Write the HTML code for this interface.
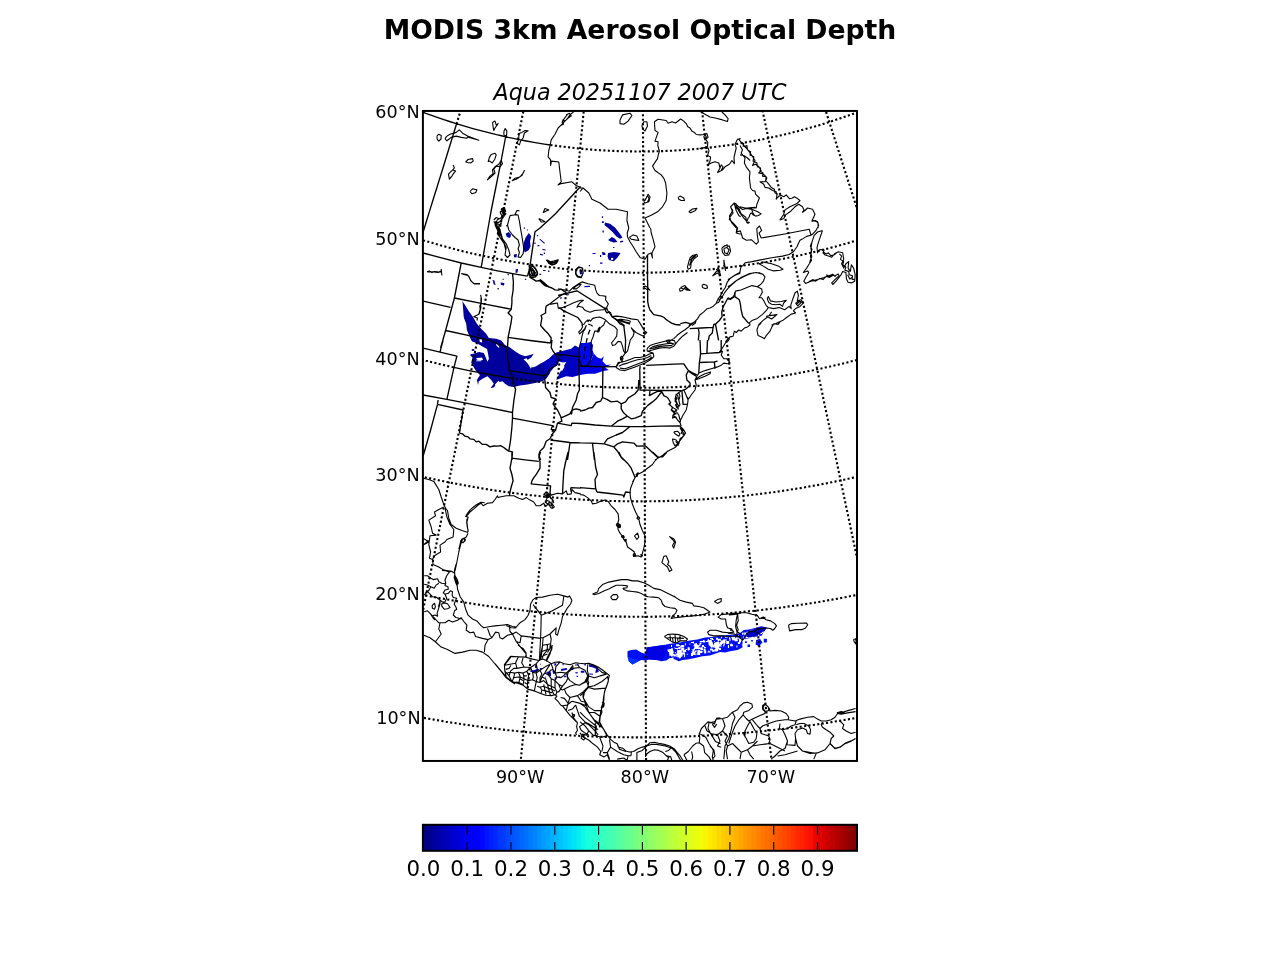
<!DOCTYPE html>
<html><head><meta charset="utf-8"><title>MODIS 3km Aerosol Optical Depth</title>
<style>
html,body{margin:0;padding:0;background:#fff;}
body{width:1280px;height:960px;overflow:hidden;position:relative;font-family:"DejaVu Sans","Liberation Sans",sans-serif;}
svg{position:absolute;left:0;top:0;}
text{font-family:"DejaVu Sans","Liberation Sans",sans-serif;fill:#000;}
.c{fill:none;stroke:#000;stroke-width:1.1;stroke-linejoin:round;stroke-linecap:butt}
.s{fill:none;stroke:#000;stroke-width:1.35;stroke-linejoin:round}
.g{fill:none;stroke:#000;stroke-width:2.1;stroke-dasharray:2.1 2.34}
</style></head><body>
<svg width="1280" height="960" viewBox="0 0 1280 960">
<defs><clipPath id="mc"><rect x="423" y="110.9" width="434" height="650"/></clipPath>
</defs>
<text x="640" y="38.7" text-anchor="middle" font-size="26.67" font-weight="bold">MODIS 3km Aerosol Optical Depth</text>
<text x="640" y="100" text-anchor="middle" font-size="22.2" font-style="italic">Aqua 20251107 2007 UTC</text>
<g clip-path="url(#mc)">
<path fill="#00009c" d="M462.5 301.2 463.1 308.8 463.8 317.5 466.2 323.8 466.9 330 470 337.5 472.5 342.5 477.5 345 475 348.8 470 355 472.5 357.5 471.2 362.5 473.8 367.5 476.2 371.2 480 375 476.9 380 478.1 385 478.8 381.2 482.5 378.8 487.5 376.2 491.2 380 493.8 383.8 490.6 388.1 493.8 387.5 497.5 382.5 502.5 381.2 505 383.8 508.8 386.2 513.8 386.9 520 385.6 527.5 384.4 535 383.1 542.5 381.2 546.2 378.8 548.8 375 550.6 371.2 553.8 367.5 557.5 365 558.8 361.2 553.8 357.5 548.8 358.8 545 361.2 540 363.8 536.2 366.2 532.5 367.5 530 363.8 527.5 360 531.2 357.5 533.8 353.8 530 355 525 356.2 520 354.4 515 351.2 510 347.5 505 345 501.2 340.6 496.2 338.8 488.8 338.1 486.2 333.8 481.9 329.4 476.9 323.8 472.5 316.2 468.8 311.2 465 305Z"/>
<path fill="#0000c0" d="M548.8 358.8 545 361.2 542.5 365 546.2 370 548.8 375 550.6 371.2 553.8 367.5 557.5 365 558.8 361.2 562.5 362.5 566.2 361.9 563.8 366.2 561.2 370 558.8 375 556.2 380 561.2 378.1 566.2 376.2 572.5 376.9 580 375 580 366.2 580 347.5 578.8 347.5 575 345.6 571.2 348.8 566.2 350 561.2 351.2 556.2 352.5 552.5 355Z"/>
<path fill="#0000e2" d="M580 375 587.5 373.8 595 373.8 602.5 371.2 608.8 370 605 367.5 611.2 364.4 606.2 365 602.5 361.2 603.8 356.2 601.2 358.8 597.5 357.5 593.8 353.8 591.2 360 587.5 365 581.2 366.2 580 366.2Z"/>
<path fill="#0008ec" d="M580 343.1 586.2 343.1 590.6 341.9 593.1 345 592.5 350 593.8 353.8 591.2 360 587.5 365 581.2 366.2 580 366.2 580 357.5Z"/>
<path fill="#ffffff" d="M476.9 358.1 481.9 357.5 483.1 360 477.5 360.6Z M486.2 351.2 488.1 353.8 488.8 360 486.9 357.5Z M560 365 563.1 363.8 564.4 366.9 561.9 371.2 560 368.8Z M465.9 340.7 468.9 340.3 476.9 343.2 482 346.2 487.1 349.1 488.9 358.6 487.5 361.8 485.6 357.1 483.8 353.1 479.1 352.1 473.2 353.8 469.2 354.5 465.9 355.6Z"/>
<path fill="#00009c" d="M471.8 349.1 474.3 349.1 474.3 350.9 471.8 350.9Z"/>
<path fill="#ffffff" d="M479.4 339.2 482 339.6 482.1 342.5 479.8 342.1Z M495.8 344.1 497.7 344.7 499.6 347.2 498.8 347.8 496.6 345.8Z M476.2 358.2 480.5 358 480.5 359.1 476.2 359.3Z M476.2 360.4 481.3 360.2 481.3 361.2 476.2 361.3Z M494.8 384.8 498.4 380.8 499.5 381.5 496.2 385.9Z M498.8 383.4 501.7 383.4 506.1 387 502.4 385.5 499.5 385.5Z M523.6 359.3 526.5 358.2 532.3 365.8 530.9 368.8 527.9 363.7Z M528.7 360.7 532.3 359.3 533 360.7 529.4 361.8Z"/>
<path fill="#0010f2" d="M627.5 651.2 631.2 650 636.2 649.4 641.2 652.5 645 653.8 646.9 647.5 655 646.2 663.8 645 670 643.8 676.2 643.1 682.5 641.9 690 640.6 697.5 639.4 705 637.5 712.5 636.9 720 635.6 727.5 635 735 634.4 740 633.1 743.8 630 748.8 629.4 755 628.1 761.2 626.2 766.9 627.5 765 630.6 762.5 633.8 761.2 636.9 765 640 766.9 641.9 762.5 643.8 757.5 645.6 755 643.8 750 646.2 747.5 645 742.5 647.5 737.5 650 730 651.2 725 652.5 720 651.9 715 653.8 710 655.6 702.5 656.2 695 658.1 687.5 659.4 682.5 660 678.8 661.2 675 659.4 670 658.1 666.2 660.6 661.2 661.2 656.2 660 650 659.4 645 660.6 641.2 660 636.2 662.5 632.5 664.4 628.8 661.2 627.5 656.2Z"/>
<path fill="#0000e2" d="M646.9 647.5 655 646.2 663.8 645 667.5 646.2 666.2 652.5 662.5 660 656.2 660 650 659.4 646.2 657.5Z"/>
<path fill="#0034ff" d="M627.5 656.2 632.5 658.8 638.8 660 636.2 662.5 632.5 664.4 628.8 661.2Z"/>
<path fill="#ffffff" d="M669.4 649.4 672.5 648.1 673.8 652.5 671.9 656.9 670 655Z M676.9 651.2 681.2 650 682.5 655 680 658.8 677.5 656.2Z M708.1 640.6 711.2 639.4 713.1 643.8 711.2 647.5 708.8 645Z M715 642.5 718.8 641.2 720 646.2 716.9 650 714.4 647.5Z M693.8 643.8 696.9 643.1 697.5 646.2 695 647.5Z M750.6 630 756.2 628.8 756.9 631.2 751.2 632.5Z M731.2 636.9 735 636.2 735.6 640 732.5 640.6Z M722.5 640 725 639.4 725.6 643.1 723.1 643.8Z M745 638.8 752.5 638.1 753.8 642.5 746.2 643.1Z M700 647.5 702.5 646.9 703.1 650 700.6 650.6Z M687.5 647.5 689.4 646.9 690 650 688.1 650.6Z"/>
<path fill="#00009c" d="M525.6 237.5 528.8 233.1 531.2 236.2 530 241.2 530.6 246.2 528.8 250 525 252.5 523.1 248.8 523.8 242.5Z M505.6 233.8 508.8 231.9 511.2 235 510 238.1 506.9 236.9Z M513.8 254.4 516.9 254 516.5 257.5 514 257.2Z M605 222.5 610 223.8 615 227.5 620 233.8 622.5 237.5 620 238.8 616.2 236.2 612.5 231.9 607.5 227.5 604.4 225Z M608.1 240 611.9 236.9 615 238.8 617.5 241.9 613.8 242.5 610 241.2Z M608.1 253.1 613.8 251.9 620.6 253.1 617.5 257.5 613.8 261.2 608.8 260 607.5 256.2Z M601.9 251.9 605 252.5 605.6 255 602.5 255Z"/>
<path fill="#ffffff" d="M611 258.1 613.1 257.8 613.2 259.8 611.2 260Z"/>
<path fill="#00009c" d="M515.6 269.4 518.1 268.8 517.5 272.5 515.6 273.1Z M492.5 280 494.4 280.6 495.6 285 493.8 284.4Z M500.6 282.5 504.4 283.1 504 285.6 501 285Z M601.9 216.2 603.1 216.2 603.1 218.1 601.9 218.1Z M601.9 221.2 603.8 221.2 603.8 223.1 601.9 223.1Z M602.5 230.6 603.8 230.6 603.8 232.5 602.5 232.5Z M523.8 227.5 525 227.5 525 228.8 523.8 228.8Z M526.9 229.4 528.1 229.4 528.1 230.6 526.9 230.6Z M536.9 235 538.1 235 538.1 236.2 536.9 236.2Z M540 238.8 545 243.1 544.2 243.8 539.5 239.5Z M537.5 245 539.4 245 539.4 246.2 537.5 246.2Z M542.5 248.8 545.6 249.4 545.6 250.6 542.5 250Z M540 253.8 543.1 254.4 543.1 255.6 540 255Z M534.4 242.5 535.6 242.5 535.6 244 534.4 244Z M543.8 252.5 545 252.5 545 254 543.8 254Z M543.1 270 545.6 270 545.6 271 543.1 271Z M548.1 270.6 549.4 270.6 549.4 271.9 548.1 271.9Z M539.4 273.8 541.2 273.8 541.2 275 539.4 275Z M525 278.8 526.2 278.8 526.2 280 525 280Z M507.5 273.8 508.8 273.8 508.8 275.2 507.5 275.2Z M497.5 288.1 498.8 288.1 498.8 289.4 497.5 289.4Z M502.5 278.8 503.8 278.8 503.8 279.8 502.5 279.8Z M584.4 286 590 285.8 590 287 584.4 287.2Z M560 297.5 561.9 297.2 561.9 298.5 560 298.8Z M566.2 294.4 568.8 294 568.8 295.2 566.2 295.6Z M579.4 270.6 581.9 270 582.2 273.8 580 274.4Z M592.5 253.1 595.6 253.1 595.6 254 592.5 254Z M600 255 601.2 255 601.2 256.9 600 256.9Z M600 262.5 602.5 262.5 602.5 263.8 600 263.8Z M588.8 265 590 265 590 266.2 588.8 266.2Z M620 241.2 623.1 240.6 623.1 241.9 620 242.5Z M613.1 246.9 614.4 246.9 614.4 248.1 613.1 248.1Z M506.2 225 507.5 225 507.5 226.5 506.2 226.5Z M497.5 228.1 498.8 228.1 498.8 229.6 497.5 229.6Z"/>
<path fill="#0000c0" d="M529.3 671.1 534.4 669.9 538.3 668.8 539.5 669.9 536.7 671.9 532 672.3Z M535 665.2 536.9 665.2 536.9 668.1 535 668.1Z M539.8 668 541.8 668 541.8 669.5 539.8 669.5Z M546.1 672.3 550 671.1 551.2 673.4 550.8 676.6 548.4 675.4Z M552.3 670.5 554.1 670.5 555.1 673.4 553.3 674.1Z M554.3 663.3 556.2 663.3 556.2 665.6 554.3 665.6Z M560.9 669.1 566.8 668.1 567.2 669.7 561.3 670.9Z M570.3 668 573.4 668 573.4 669.9 570.3 669.9Z M575 664.5 578.1 664.5 578.1 665.6 575 665.6Z M580.9 670.7 584.4 670.7 584.4 672.7 580.9 672.7Z M575 672.3 578.1 672.3 577.3 673.4 575.8 673.4Z M589.1 664.5 593 665.2 597.7 667.2 598.8 671.9 595.3 673 596.1 668.8 592.2 667.2 589.1 666.8Z M564.1 675.8 566.4 675.8 566.4 677.3 564.1 677.3Z M554.7 677.3 556.2 677.3 556.2 679.7 554.7 679.7Z M558.6 676.6 560.2 676.6 560.2 678.1 558.6 678.1Z M545.3 676.6 546.1 676.6 546.1 677.7 545.3 677.7Z M589.1 673.4 593 673.8 593 674.8 589.1 674.6Z M576.6 675.8 578.1 675.8 578.1 677 576.6 677Z M540.2 663.7 541 663.7 541 664.8 540.2 664.8Z M562.5 664.1 563.7 664.1 563.7 665.2 562.5 665.2Z M584.4 664.1 585.9 664.1 585.9 665.6 584.4 665.6Z"/>
<path fill="#ffffff" d="M712.1 649.8 714.1 649.8 714.1 651.8 712.1 651.8Z M717.6 639 719.6 639 719.6 641 717.6 641Z M676.8 645 679.8 645 679.8 646 676.8 646Z M726.2 641 729.2 641 729.2 644 726.2 644Z M731.8 645 732.8 645 732.8 646 731.8 646Z M671 652.8 673 652.8 673 654.8 671 654.8Z M711 644.6 714 644.6 714 646.6 711 646.6Z M716.9 642.8 717.9 642.8 717.9 644.8 716.9 644.8Z M750.5 635 751.5 635 751.5 638 750.5 638Z M696 650.5 698 650.5 698 651.5 696 651.5Z M751.1 643.2 754.1 643.2 754.1 644.2 751.1 644.2Z M672.6 653.9 674.6 653.9 674.6 654.9 672.6 654.9Z M723.4 644.5 724.4 644.5 724.4 645.5 723.4 645.5Z M698.2 645.4 699.2 645.4 699.2 646.4 698.2 646.4Z M691.9 642 693.9 642 693.9 643 691.9 643Z M734.9 640.2 737.9 640.2 737.9 641.2 734.9 641.2Z M708.9 643.4 709.9 643.4 709.9 644.4 708.9 644.4Z M694.1 651.2 695.1 651.2 695.1 652.2 694.1 652.2Z M751.9 631.9 752.9 631.9 752.9 632.9 751.9 632.9Z M711.1 645.8 712.1 645.8 712.1 647.8 711.1 647.8Z M674.8 651.9 675.8 651.9 675.8 652.9 674.8 652.9Z M726.9 641 728.9 641 728.9 643 726.9 643Z M749.8 636 752.8 636 752.8 637 749.8 637Z M698.2 648 701.2 648 701.2 649 698.2 649Z M683.1 650 686.1 650 686.1 652 683.1 652Z M754.6 635.6 755.6 635.6 755.6 636.6 754.6 636.6Z M692.9 648.8 693.9 648.8 693.9 651.8 692.9 651.8Z M684.9 643.2 685.9 643.2 685.9 645.2 684.9 645.2Z M728.1 646.8 729.1 646.8 729.1 647.8 728.1 647.8Z M674.4 647.5 675.4 647.5 675.4 648.5 674.4 648.5Z M695.4 653.2 696.4 653.2 696.4 655.2 695.4 655.2Z M681.1 647.4 684.1 647.4 684.1 650.4 681.1 650.4Z M725.2 635.8 726.2 635.8 726.2 637.8 725.2 637.8Z M757.4 642.2 758.4 642.2 758.4 645.2 757.4 645.2Z M730.4 644 731.4 644 731.4 645 730.4 645Z M766.1 635.2 769.1 635.2 769.1 636.2 766.1 636.2Z M756.4 639 757.4 639 757.4 641 756.4 641Z M675.9 645 677.9 645 677.9 646 675.9 646Z M752.8 638.6 754.8 638.6 754.8 640.6 752.8 640.6Z M725 636.4 728 636.4 728 637.4 725 637.4Z M765.6 637.8 767.6 637.8 767.6 640.8 765.6 640.8Z M712.8 644.6 714.8 644.6 714.8 647.6 712.8 647.6Z M670.5 651.2 671.5 651.2 671.5 652.2 670.5 652.2Z M716.6 648.9 717.6 648.9 717.6 649.9 716.6 649.9Z M703.9 647.1 705.9 647.1 705.9 648.1 703.9 648.1Z M741.9 644.5 743.9 644.5 743.9 645.5 741.9 645.5Z M699.8 642.4 701.8 642.4 701.8 643.4 699.8 643.4Z M754.4 637.8 755.4 637.8 755.4 638.8 754.4 638.8Z M681 654 682 654 682 655 681 655Z M761.4 631.1 763.4 631.1 763.4 633.1 761.4 633.1Z M694.6 646.1 697.6 646.1 697.6 649.1 694.6 649.1Z M716.2 647.9 718.2 647.9 718.2 649.9 716.2 649.9Z M699.1 643.5 701.1 643.5 701.1 644.5 699.1 644.5Z M734.5 638.2 737.5 638.2 737.5 641.2 734.5 641.2Z M669.4 651.1 670.4 651.1 670.4 653.1 669.4 653.1Z M691 641.9 694 641.9 694 642.9 691 642.9Z M711.6 646.2 712.6 646.2 712.6 647.2 711.6 647.2Z M735.1 639.8 736.1 639.8 736.1 640.8 735.1 640.8Z M742 632.8 743 632.8 743 634.8 742 634.8Z M744.4 644.4 746.4 644.4 746.4 647.4 744.4 647.4Z M765.9 639.2 768.9 639.2 768.9 640.2 765.9 640.2Z M738.9 638.9 741.9 638.9 741.9 639.9 738.9 639.9Z M704.8 650.4 705.8 650.4 705.8 652.4 704.8 652.4Z M699.8 641.1 702.8 641.1 702.8 642.1 699.8 642.1Z M720.5 640.4 723.5 640.4 723.5 641.4 720.5 641.4Z M701.9 645.1 703.9 645.1 703.9 647.1 701.9 647.1Z M743.4 632.5 744.4 632.5 744.4 634.5 743.4 634.5Z M746.5 635.9 747.5 635.9 747.5 637.9 746.5 637.9Z M682.1 652.4 685.1 652.4 685.1 654.4 682.1 654.4Z M760.9 641.5 761.9 641.5 761.9 642.5 760.9 642.5Z M710.9 648.8 712.9 648.8 712.9 649.8 710.9 649.8Z M719.1 643.8 720.1 643.8 720.1 645.8 719.1 645.8Z M761.8 636.9 762.8 636.9 762.8 637.9 761.8 637.9Z M763.1 636.1 764.1 636.1 764.1 638.1 763.1 638.1Z M720.4 644.1 721.4 644.1 721.4 647.1 720.4 647.1Z M763.2 633.9 765.2 633.9 765.2 634.9 763.2 634.9Z M716 637.8 718 637.8 718 639.8 716 639.8Z M708.4 650.4 709.4 650.4 709.4 651.4 708.4 651.4Z M714.2 642.9 716.2 642.9 716.2 645.9 714.2 645.9Z M698.9 648 699.9 648 699.9 649 698.9 649Z M671 645 672 645 672 647 671 647Z M739 639.4 741 639.4 741 642.4 739 642.4Z M679.6 646.6 680.6 646.6 680.6 649.6 679.6 649.6Z M754.2 638.5 756.2 638.5 756.2 641.5 754.2 641.5Z M683.2 651 686.2 651 686.2 652 683.2 652Z M719.8 644.2 720.8 644.2 720.8 645.2 719.8 645.2Z M757.9 634.1 758.9 634.1 758.9 636.1 757.9 636.1Z M686.8 653.8 687.8 653.8 687.8 654.8 686.8 654.8Z M693.1 651.9 695.1 651.9 695.1 654.9 693.1 654.9Z M745.5 637 748.5 637 748.5 638 745.5 638Z M677 648.5 678 648.5 678 649.5 677 649.5Z M737.1 637.8 740.1 637.8 740.1 638.8 737.1 638.8Z M746.8 631.8 748.8 631.8 748.8 634.8 746.8 634.8Z M718.4 638.4 719.4 638.4 719.4 639.4 718.4 639.4Z M676.9 656.2 678.9 656.2 678.9 657.2 676.9 657.2Z M743 638.2 745 638.2 745 640.2 743 640.2Z M710 638.1 713 638.1 713 639.1 710 639.1Z M750.9 636.8 753.9 636.8 753.9 638.8 750.9 638.8Z M707.5 640.5 709.5 640.5 709.5 641.5 707.5 641.5Z M699.5 650.9 702.5 650.9 702.5 652.9 699.5 652.9Z M723.8 643.2 724.8 643.2 724.8 645.2 723.8 645.2Z M695.1 650.4 696.1 650.4 696.1 652.4 695.1 652.4Z M680.6 650.2 681.6 650.2 681.6 652.2 680.6 652.2Z M743.1 641.6 744.1 641.6 744.1 643.6 743.1 643.6Z M697.2 651.9 700.2 651.9 700.2 654.9 697.2 654.9Z M672.4 657.2 673.4 657.2 673.4 659.2 672.4 659.2Z M685.5 649 687.5 649 687.5 650 685.5 650Z M764.2 636.5 767.2 636.5 767.2 637.5 764.2 637.5Z M692.9 641.6 693.9 641.6 693.9 643.6 692.9 643.6Z M668.6 648.9 669.6 648.9 669.6 651.9 668.6 651.9Z M720.9 642.9 721.9 642.9 721.9 644.9 720.9 644.9Z M747.5 639.2 748.5 639.2 748.5 641.2 747.5 641.2Z M759.4 635.5 760.4 635.5 760.4 637.5 759.4 637.5Z M721 641.6 723 641.6 723 643.6 721 643.6Z M695.6 644.6 697.6 644.6 697.6 646.6 695.6 646.6Z M715.2 649.2 718.2 649.2 718.2 651.2 715.2 651.2Z M670.1 652.6 673.1 652.6 673.1 653.6 670.1 653.6Z M707.9 639 708.9 639 708.9 641 707.9 641Z M760.8 640.9 762.8 640.9 762.8 642.9 760.8 642.9Z M672 655.2 674 655.2 674 656.2 672 656.2Z M764.1 636.4 765.1 636.4 765.1 637.4 764.1 637.4Z M729.1 637.2 730.1 637.2 730.1 639.2 729.1 639.2Z M719.6 642.1 722.6 642.1 722.6 644.1 719.6 644.1Z M712.5 645.1 714.5 645.1 714.5 647.1 712.5 647.1Z M744.4 645 745.4 645 745.4 646 744.4 646Z M691 653 693 653 693 656 691 656Z M751.1 638.8 754.1 638.8 754.1 641.8 751.1 641.8Z M736.5 637 737.5 637 737.5 638 736.5 638Z M761.5 637.5 762.5 637.5 762.5 638.5 761.5 638.5Z M729.5 637.9 730.5 637.9 730.5 640.9 729.5 640.9Z M671.2 648.4 672.2 648.4 672.2 649.4 671.2 649.4Z M721.9 640.8 723.9 640.8 723.9 642.8 721.9 642.8Z M674.9 654.8 676.9 654.8 676.9 655.8 674.9 655.8Z M711.4 642.9 712.4 642.9 712.4 644.9 711.4 644.9Z M682.6 650.6 683.6 650.6 683.6 653.6 682.6 653.6Z M724.9 639.6 726.9 639.6 726.9 640.6 724.9 640.6Z M710.1 648.6 712.1 648.6 712.1 650.6 710.1 650.6Z M748.9 635.2 751.9 635.2 751.9 638.2 748.9 638.2Z M675.6 653.5 678.6 653.5 678.6 655.5 675.6 655.5Z M695.5 645.2 698.5 645.2 698.5 647.2 695.5 647.2Z M703.6 648.4 705.6 648.4 705.6 651.4 703.6 651.4Z M757.8 640.1 758.8 640.1 758.8 642.1 757.8 642.1Z M698.9 652.1 700.9 652.1 700.9 653.1 698.9 653.1Z M675.9 644.2 678.9 644.2 678.9 646.2 675.9 646.2Z M740.5 637.8 741.5 637.8 741.5 640.8 740.5 640.8Z M723.1 645.6 724.1 645.6 724.1 646.6 723.1 646.6Z M689.4 643.6 690.4 643.6 690.4 644.6 689.4 644.6Z M673.9 654.6 674.9 654.6 674.9 656.6 673.9 656.6Z M675.6 655.9 676.6 655.9 676.6 656.9 675.6 656.9Z M730.1 644.2 733.1 644.2 733.1 646.2 730.1 646.2Z M691.8 651.2 693.8 651.2 693.8 653.2 691.8 653.2Z M743 636.6 744 636.6 744 637.6 743 637.6Z M716.2 646.4 719.2 646.4 719.2 649.4 716.2 649.4Z M757.9 640.4 760.9 640.4 760.9 642.4 757.9 642.4Z M751.8 641.5 753.8 641.5 753.8 644.5 751.8 644.5Z M730.8 643.6 731.8 643.6 731.8 645.6 730.8 645.6Z M691.8 649.5 694.8 649.5 694.8 650.5 691.8 650.5Z M699.1 646.8 700.1 646.8 700.1 647.8 699.1 647.8Z M714 641.2 715 641.2 715 642.2 714 642.2Z M757.6 629.8 759.6 629.8 759.6 630.8 757.6 630.8Z M698.4 644.8 700.4 644.8 700.4 645.8 698.4 645.8Z M726.8 641.6 728.8 641.6 728.8 642.6 726.8 642.6Z M755.9 641.9 756.9 641.9 756.9 644.9 755.9 644.9Z M760.5 640.2 762.5 640.2 762.5 642.2 760.5 642.2Z M757.8 636.8 758.8 636.8 758.8 638.8 757.8 638.8Z M752.6 633.2 753.6 633.2 753.6 635.2 752.6 635.2Z M763.9 638.6 764.9 638.6 764.9 639.6 763.9 639.6Z M755.6 641.9 757.6 641.9 757.6 642.9 755.6 642.9Z M737.9 635.1 738.9 635.1 738.9 637.1 737.9 637.1Z M747.5 641.1 749.5 641.1 749.5 643.1 747.5 643.1Z M718.5 644 719.5 644 719.5 645 718.5 645Z M682.2 647.5 684.2 647.5 684.2 650.5 682.2 650.5Z M677.1 649.9 680.1 649.9 680.1 652.9 677.1 652.9Z M721.1 636.2 722.1 636.2 722.1 638.2 721.1 638.2Z M744.6 632.4 746.6 632.4 746.6 635.4 744.6 635.4Z M716.2 649.5 717.2 649.5 717.2 651.5 716.2 651.5Z M707.5 651.5 710.5 651.5 710.5 652.5 707.5 652.5Z M703 640.6 705 640.6 705 642.6 703 642.6Z M679.5 654.6 682.5 654.6 682.5 656.6 679.5 656.6Z M712.8 650.5 715.8 650.5 715.8 651.5 712.8 651.5Z M756.5 638 758.5 638 758.5 640 756.5 640Z M761.8 636.1 762.8 636.1 762.8 638.1 761.8 638.1Z M678.4 647.1 680.4 647.1 680.4 649.1 678.4 649.1Z M711.6 639 713.6 639 713.6 640 711.6 640Z M680.5 645.5 681.5 645.5 681.5 647.5 680.5 647.5Z M671.1 654 672.1 654 672.1 655 671.1 655Z M710.4 642.4 712.4 642.4 712.4 645.4 710.4 645.4Z M681.2 645 684.2 645 684.2 647 681.2 647Z M715.1 645.2 718.1 645.2 718.1 647.2 715.1 647.2Z M728 645.1 729 645.1 729 648.1 728 648.1Z M719.9 638.8 720.9 638.8 720.9 640.8 719.9 640.8Z M678 650.2 679 650.2 679 651.2 678 651.2Z M727.9 644.9 728.9 644.9 728.9 647.9 727.9 647.9Z M718.2 639.1 720.2 639.1 720.2 640.1 718.2 640.1Z M723.5 644.2 724.5 644.2 724.5 645.2 723.5 645.2Z M736.4 645.5 737.4 645.5 737.4 647.5 736.4 647.5Z M713.2 650.1 714.2 650.1 714.2 651.1 713.2 651.1Z M756.8 637.1 758.8 637.1 758.8 639.1 756.8 639.1Z M684.1 654.2 685.1 654.2 685.1 657.2 684.1 657.2Z M667.9 650.1 669.9 650.1 669.9 652.1 667.9 652.1Z M749.5 638.2 750.5 638.2 750.5 640.2 749.5 640.2Z M670.6 657.9 673.6 657.9 673.6 658.9 670.6 658.9Z M697.9 649.8 699.9 649.8 699.9 652.8 697.9 652.8Z M669.1 651.2 670.1 651.2 670.1 654.2 669.1 654.2Z M705.6 641 707.6 641 707.6 642 705.6 642Z M693.5 645.2 696.5 645.2 696.5 646.2 693.5 646.2Z M707.4 639.8 708.4 639.8 708.4 641.8 707.4 641.8Z M723.2 639.4 725.2 639.4 725.2 641.4 723.2 641.4Z M749 632.6 751 632.6 751 634.6 749 634.6Z M719.4 648.1 720.4 648.1 720.4 649.1 719.4 649.1Z M696.8 646 698.8 646 698.8 649 696.8 649Z M699.2 651.4 700.2 651.4 700.2 652.4 699.2 652.4Z M679.8 649.9 681.8 649.9 681.8 650.9 679.8 650.9Z M714.5 649.1 716.5 649.1 716.5 651.1 714.5 651.1Z M703.9 646.4 704.9 646.4 704.9 647.4 703.9 647.4Z M731.6 635.8 732.6 635.8 732.6 636.8 731.6 636.8Z M718.9 648 720.9 648 720.9 650 718.9 650Z M667.5 649.4 668.5 649.4 668.5 650.4 667.5 650.4Z M673.6 655 675.6 655 675.6 656 673.6 656Z M702.8 639.9 703.8 639.9 703.8 641.9 702.8 641.9Z M756.2 636.4 758.2 636.4 758.2 637.4 756.2 637.4Z M735.9 637.5 736.9 637.5 736.9 639.5 735.9 639.5Z M669.1 654.4 671.1 654.4 671.1 655.4 669.1 655.4Z M720.1 648.6 721.1 648.6 721.1 649.6 720.1 649.6Z M697.8 652.8 698.8 652.8 698.8 654.8 697.8 654.8Z M737.9 642.1 739.9 642.1 739.9 644.1 737.9 644.1Z M675.2 648.1 678.2 648.1 678.2 649.1 675.2 649.1Z M694 647.4 695 647.4 695 649.4 694 649.4Z M704.2 650.6 706.2 650.6 706.2 653.6 704.2 653.6Z M759 633 762 633 762 634 759 634Z M742.5 640.6 750 638.5 756.2 636.8 767.5 635 770 647.5 742.5 650Z"/>
<path fill="#0000c0" d="M746.2 633.8 752.5 629.4 760 627.5 766.2 626.9 765 630 760 633.8 755 636.2 750 637.5 746.9 636.9Z"/>
<path fill="#0010f2" d="M756.2 640 760 638.8 762.5 642.5 758.8 646.2 755.6 644.4Z M747.5 644.4 750 644.4 750 646.9 747.5 646.9Z M763.8 638.8 766.9 638.8 766.9 642.5 763.8 642.5Z M745 641.2 746.9 641.2 746.9 643.1 745 643.1Z M751.2 640 752.8 640 752.8 641.5 751.2 641.5Z"/>
<path class="g" d="M112.6 616 117.3 618.3 122.1 620.6 126.8 622.8 131.5 625 136.3 627.2 141.1 629.4 145.8 631.5 150.6 633.7 155.4 635.8 160.2 637.9 165 640 169.8 642 174.7 644 179.5 646 184.3 648 189.2 650 194.1 651.9 198.9 653.9 203.8 655.8 208.7 657.7 213.6 659.5 218.5 661.4 223.4 663.2 228.3 665 233.2 666.8 238.2 668.5 243.1 670.2 248.1 672 253 673.6 258 675.3 263 677 267.9 678.6 272.9 680.2 277.9 681.8 282.9 683.3 287.9 684.9 292.9 686.4 298 687.9 303 689.4 308 690.8 313.1 692.2 318.1 693.6 323.1 695 328.2 696.4 333.3 697.7 338.3 699.1 343.4 700.4 348.5 701.6 353.6 702.9 358.7 704.1 363.8 705.3 368.9 706.5 374 707.7 379.1 708.8 384.2 710 389.3 711.1 394.4 712.1 399.6 713.2 404.7 714.2 409.8 715.2 415 716.2 420.1 717.2 425.3 718.1 430.4 719 435.6 719.9 440.8 720.8 445.9 721.7 451.1 722.5 456.3 723.3 461.5 724.1 466.6 724.9 471.8 725.6 477 726.3 482.2 727 487.4 727.7 492.6 728.3 497.8 729 503 729.6 508.2 730.2 513.4 730.7 518.6 731.3 523.8 731.8 529 732.3 534.2 732.7 539.5 733.2 544.7 733.6 549.9 734 555.1 734.4 560.4 734.8 565.6 735.1 570.8 735.4 576 735.7 581.3 736 586.5 736.2 591.7 736.4 597 736.6 602.2 736.8 607.4 737 612.7 737.1 617.9 737.2 623.1 737.3 628.4 737.3 633.6 737.4 638.9 737.4 644.1 737.4 649.3 737.4 654.6 737.3 659.8 737.2 665 737.1 670.3 737 675.5 736.9 680.7 736.7 686 736.5 691.2 736.3 696.4 736.1 701.7 735.8 706.9 735.5 712.1 735.2 717.4 734.9 722.6 734.6 727.8 734.2 733 733.8 738.3 733.4 743.5 733 748.7 732.5 753.9 732 759.1 731.5 764.3 731 769.5 730.4 774.7 729.9 779.9 729.3 785.1 728.7 790.3 728 795.5 727.4 800.7 726.7 805.9 726 811.1 725.2 816.3 724.5 821.5 723.7 826.6 722.9 831.8 722.1 837 721.2 842.2 720.4 847.3 719.5 852.5 718.6 857.6 717.6 862.8 716.7 867.9 715.7 873.1 714.7 878.2 713.7 883.3 712.6 888.5 711.6 893.6 710.5 898.7 709.4 903.8 708.2 908.9 707.1 914 705.9 919.1 704.7 924.2 703.5 929.3 702.2 934.4 701 939.5 699.7 944.5 698.4 949.6 697.1 954.7 695.7 959.7 694.3 964.8 692.9 969.8 691.5 974.8 690.1 979.9 688.6 984.9 687.1 989.9 685.6 994.9 684.1 999.9 682.5 1004.9 681 1009.9 679.4 1014.9 677.7 1019.9 676.1 1024.8 674.5 1029.8 672.8 1034.7 671.1 1039.7 669.3 1044.6 667.6 1049.5 665.8 1054.5 664.1 1059.4 662.2 1064.3 660.4 1069.2 658.6 1074.1 656.7 1079 654.8 1083.8 652.9 1088.7 650.9 1093.6 649 1098.4 647 1103.3 645 1108.1 643 1112.9 641 1117.7 638.9 1122.5 636.8 M165.3 507.5 169.6 509.6 173.8 511.6 178.1 513.6 182.4 515.6 186.7 517.6 190.9 519.5 195.2 521.5 199.5 523.4 203.9 525.3 208.2 527.2 212.5 529 216.8 530.9 221.2 532.7 225.5 534.5 229.9 536.3 234.3 538.1 238.6 539.8 243 541.6 247.4 543.3 251.8 545 256.2 546.6 260.6 548.3 265.1 549.9 269.5 551.6 273.9 553.2 278.4 554.7 282.8 556.3 287.3 557.8 291.7 559.4 296.2 560.9 300.7 562.3 305.1 563.8 309.6 565.3 314.1 566.7 318.6 568.1 323.1 569.5 327.6 570.8 332.2 572.2 336.7 573.5 341.2 574.8 345.7 576.1 350.3 577.4 354.8 578.6 359.4 579.8 363.9 581 368.5 582.2 373.1 583.4 377.6 584.6 382.2 585.7 386.8 586.8 391.4 587.9 396 589 400.6 590 405.2 591 409.8 592 414.4 593 419 594 423.6 594.9 428.2 595.9 432.9 596.8 437.5 597.7 442.1 598.5 446.8 599.4 451.4 600.2 456 601 460.7 601.8 465.3 602.6 470 603.3 474.7 604.1 479.3 604.8 484 605.5 488.6 606.1 493.3 606.8 498 607.4 502.7 608 507.3 608.6 512 609.2 516.7 609.7 521.4 610.2 526.1 610.7 530.8 611.2 535.4 611.7 540.1 612.1 544.8 612.6 549.5 613 554.2 613.3 558.9 613.7 563.6 614 568.3 614.4 573 614.7 577.7 614.9 582.4 615.2 587.2 615.4 591.9 615.7 596.6 615.9 601.3 616 606 616.2 610.7 616.3 615.4 616.5 620.1 616.6 624.8 616.6 629.6 616.7 634.3 616.7 639 616.7 643.7 616.7 648.4 616.7 653.1 616.7 657.8 616.6 662.6 616.5 667.3 616.4 672 616.3 676.7 616.1 681.4 616 686.1 615.8 690.8 615.6 695.5 615.3 700.2 615.1 704.9 614.8 709.6 614.5 714.3 614.2 719 613.9 723.7 613.5 728.4 613.1 733.1 612.8 737.8 612.3 742.5 611.9 747.2 611.4 751.9 611 756.6 610.5 761.3 610 766 609.4 770.7 608.9 775.3 608.3 780 607.7 784.7 607.1 789.3 606.4 794 605.8 798.7 605.1 803.3 604.4 808 603.7 812.7 603 817.3 602.2 822 601.4 826.6 600.6 831.2 599.8 835.9 599 840.5 598.1 845.2 597.2 849.8 596.3 854.4 595.4 859 594.5 863.6 593.5 868.2 592.5 872.9 591.5 877.5 590.5 882.1 589.5 886.6 588.4 891.2 587.3 895.8 586.2 900.4 585.1 905 584 909.5 582.8 914.1 581.6 918.7 580.4 923.2 579.2 927.8 578 932.3 576.7 936.8 575.4 941.4 574.1 945.9 572.8 950.4 571.5 954.9 570.1 959.4 568.8 963.9 567.4 968.4 565.9 972.9 564.5 977.4 563.1 981.9 561.6 986.4 560.1 990.8 558.6 995.3 557 999.7 555.5 1004.2 553.9 1008.6 552.3 1013.1 550.7 1017.5 549.1 1021.9 547.5 1026.3 545.8 1030.7 544.1 1035.1 542.4 1039.5 540.7 1043.9 538.9 1048.2 537.2 1052.6 535.4 1057 533.6 1061.3 531.8 1065.6 529.9 1070 528.1 1074.3 526.2 M215.8 403.7 219.6 405.6 223.4 407.4 227.2 409.2 231 411 234.8 412.7 238.6 414.5 242.5 416.2 246.3 417.9 250.2 419.6 254.1 421.3 257.9 423 261.8 424.6 265.7 426.3 269.6 427.9 273.5 429.5 277.4 431 281.3 432.6 285.2 434.2 289.1 435.7 293.1 437.2 297 438.7 300.9 440.2 304.9 441.7 308.9 443.1 312.8 444.5 316.8 445.9 320.8 447.3 324.7 448.7 328.7 450.1 332.7 451.4 336.7 452.7 340.7 454 344.7 455.3 348.8 456.6 352.8 457.9 356.8 459.1 360.8 460.3 364.9 461.5 368.9 462.7 373 463.9 377 465 381.1 466.2 385.1 467.3 389.2 468.4 393.3 469.5 397.4 470.5 401.4 471.6 405.5 472.6 409.6 473.6 413.7 474.6 417.8 475.6 421.9 476.5 426 477.5 430.1 478.4 434.2 479.3 438.4 480.2 442.5 481 446.6 481.9 450.7 482.7 454.9 483.5 459 484.3 463.2 485.1 467.3 485.8 471.4 486.6 475.6 487.3 479.7 488 483.9 488.7 488.1 489.4 492.2 490 496.4 490.7 500.6 491.3 504.7 491.9 508.9 492.4 513.1 493 517.3 493.5 521.4 494.1 525.6 494.6 529.8 495.1 534 495.5 538.2 496 542.4 496.4 546.6 496.8 550.8 497.2 555 497.6 559.2 498 563.4 498.3 567.6 498.6 571.8 498.9 576 499.2 580.2 499.5 584.4 499.8 588.6 500 592.8 500.2 597 500.4 601.2 500.6 605.4 500.7 609.6 500.9 613.8 501 618 501.1 622.3 501.2 626.5 501.3 630.7 501.3 634.9 501.3 639.1 501.4 643.3 501.3 647.5 501.3 651.7 501.3 656 501.2 660.2 501.1 664.4 501.1 668.6 500.9 672.8 500.8 677 500.7 681.2 500.5 685.4 500.3 689.6 500.1 693.8 499.9 698.1 499.6 702.3 499.4 706.5 499.1 710.7 498.8 714.9 498.5 719.1 498.1 723.3 497.8 727.5 497.4 731.7 497 735.8 496.6 740 496.2 744.2 495.8 748.4 495.3 752.6 494.8 756.8 494.3 761 493.8 765.1 493.3 769.3 492.7 773.5 492.2 777.7 491.6 781.8 491 786 490.3 790.2 489.7 794.3 489 798.5 488.4 802.6 487.7 806.8 486.9 810.9 486.2 815.1 485.5 819.2 484.7 823.4 483.9 827.5 483.1 831.6 482.3 835.8 481.4 839.9 480.6 844 479.7 848.1 478.8 852.2 477.9 856.4 477 860.5 476 864.6 475.1 868.7 474.1 872.8 473.1 876.8 472.1 880.9 471 885 470 889.1 468.9 893.1 467.8 897.2 466.7 901.3 465.6 905.3 464.4 909.4 463.3 913.4 462.1 917.5 460.9 921.5 459.7 925.5 458.5 929.6 457.2 933.6 456 937.6 454.7 941.6 453.4 945.6 452.1 949.6 450.7 953.6 449.4 957.6 448 961.5 446.6 965.5 445.2 969.5 443.8 973.4 442.4 977.4 440.9 981.3 439.4 985.3 437.9 989.2 436.4 993.1 434.9 997.1 433.4 1001 431.8 1004.9 430.2 1008.8 428.6 1012.7 427 1016.6 425.4 1020.5 423.8 1024.3 422.1 1028.2 420.4 M453.7 367.3 452.1 367 450.4 366.6 448.8 366.2 447.1 365.8 445.5 365.5 443.9 365.1 442.2 364.7 440.6 364.3 439 363.9 437.3 363.5 435.7 363.1 434.1 362.7 432.4 362.3 430.8 361.9 429.2 361.5 427.6 361.1 425.9 360.7 424.3 360.2 422.7 359.8 421.1 359.4 419.4 359 417.8 358.5 416.2 358.1 414.6 357.6 412.9 357.2 411.3 356.8 409.7 356.3 408.1 355.8 406.5 355.4 404.9 354.9 403.2 354.5 401.6 354 400 353.5 398.4 353.1 396.8 352.6 395.2 352.1 393.6 351.6 392 351.1 390.4 350.7 388.7 350.2 387.1 349.7 385.5 349.2 383.9 348.7 382.3 348.2 380.7 347.7 379.1 347.2 377.5 346.6 375.9 346.1 374.3 345.6 372.7 345.1 371.1 344.6 369.5 344 368 343.5 366.4 343 364.8 342.4 363.2 341.9 361.6 341.3 360 340.8 358.4 340.2 356.8 339.7 355.2 339.1 353.7 338.6 352.1 338 350.5 337.4 348.9 336.9 347.3 336.3 345.8 335.7 344.2 335.2 342.6 334.6 341 334 339.5 333.4 337.9 332.8 336.3 332.2 334.7 331.6 333.2 331 331.6 330.4 330 329.8 328.5 329.2 326.9 328.6 325.3 328 323.8 327.4 322.2 326.7 320.7 326.1 319.1 325.5 317.5 324.9 316 324.2 314.4 323.6 312.9 322.9 311.3 322.3 309.8 321.7 308.2 321 306.7 320.4 305.1 319.7 303.6 319 302 318.4 300.5 317.7 299 317 297.4 316.4 295.9 315.7 294.3 315 292.8 314.4 291.3 313.7 289.7 313 288.2 312.3 286.7 311.6 285.1 310.9 283.6 310.2 282.1 309.5 280.6 308.8 279 308.1 277.5 307.4 276 306.7 274.5 306 273 305.3 271.4 304.5 269.9 303.8 268.4 303.1 266.9 302.4 265.4 301.6 M511.5 378.1 515.5 378.7 519.5 379.3 523.5 379.9 527.5 380.4 531.5 380.9 535.5 381.4 539.6 381.9 543.6 382.4 547.6 382.8 551.6 383.3 555.7 383.7 559.7 384.1 563.7 384.4 567.7 384.8 571.8 385.1 575.8 385.4 579.9 385.7 583.9 386 587.9 386.3 592 386.5 596 386.7 600.1 386.9 604.1 387.1 608.1 387.2 612.2 387.4 616.2 387.5 620.3 387.6 624.3 387.7 628.4 387.8 632.4 387.8 636.5 387.8 640.5 387.8 644.6 387.8 648.6 387.8 652.7 387.7 656.7 387.7 660.8 387.6 664.8 387.5 668.8 387.4 672.9 387.2 676.9 387.1 681 386.9 685 386.7 689.1 386.4 693.1 386.2 697.1 385.9 701.2 385.7 705.2 385.4 709.3 385.1 713.3 384.7 717.3 384.4 721.4 384 725.4 383.6 729.4 383.2 733.4 382.7 737.5 382.3 741.5 381.8 745.5 381.3 749.5 380.8 753.5 380.3 757.5 379.8 761.5 379.2 765.5 378.6 769.5 378 773.5 377.4 777.5 376.8 781.5 376.1 785.5 375.4 789.5 374.7 793.5 374 797.5 373.3 801.5 372.5 805.4 371.8 809.4 371 813.4 370.2 817.3 369.3 821.3 368.5 825.2 367.6 829.2 366.7 833.1 365.8 837.1 364.9 841 364 845 363 848.9 362 852.8 361 856.7 360 860.6 359 864.5 358 868.5 356.9 872.4 355.8 876.2 354.7 880.1 353.6 884 352.4 887.9 351.3 891.8 350.1 895.6 348.9 899.5 347.7 903.4 346.4 907.2 345.2 911 343.9 914.9 342.6 918.7 341.3 922.5 340 926.4 338.7 930.2 337.3 934 335.9 937.8 334.5 941.6 333.1 945.4 331.7 949.1 330.2 952.9 328.8 956.7 327.3 960.4 325.8 964.2 324.3 967.9 322.7 971.7 321.2 975.4 319.6 979.1 318 982.8 316.4 M315.7 198 318.6 199.4 321.5 200.8 324.4 202.2 327.3 203.6 330.3 204.9 333.2 206.3 336.1 207.6 339.1 208.9 342 210.2 345 211.5 347.9 212.8 350.9 214 353.9 215.3 356.8 216.5 359.8 217.7 362.8 218.9 365.8 220.1 368.8 221.3 371.8 222.5 374.8 223.6 377.8 224.8 380.8 225.9 383.8 227 386.9 228.1 389.9 229.2 392.9 230.3 396 231.4 399 232.4 402.1 233.5 405.1 234.5 408.2 235.5 411.2 236.5 414.3 237.5 417.4 238.5 420.4 239.4 423.5 240.4 426.6 241.3 429.7 242.2 432.8 243.1 435.9 244 439 244.9 442.1 245.8 445.2 246.6 448.3 247.5 451.4 248.3 454.5 249.1 457.6 249.9 460.8 250.7 463.9 251.5 467 252.2 470.2 253 473.3 253.7 476.4 254.4 479.6 255.1 482.7 255.8 485.9 256.5 489 257.1 492.2 257.8 495.3 258.4 498.5 259.1 501.7 259.7 504.8 260.3 508 260.8 511.2 261.4 514.3 262 517.5 262.5 520.7 263 523.9 263.5 527.1 264 530.2 264.5 533.4 265 536.6 265.4 539.8 265.9 543 266.3 546.2 266.7 549.4 267.1 552.6 267.5 555.8 267.9 559 268.2 562.2 268.6 565.4 268.9 568.6 269.2 571.8 269.5 575 269.8 578.2 270.1 581.4 270.4 584.6 270.6 587.9 270.8 591.1 271.1 594.3 271.3 597.5 271.5 600.7 271.6 603.9 271.8 607.1 272 610.4 272.1 613.6 272.2 616.8 272.3 620 272.4 623.2 272.5 626.5 272.6 629.7 272.6 632.9 272.7 636.1 272.7 639.3 272.7 642.6 272.7 645.8 272.7 649 272.6 652.2 272.6 655.4 272.5 658.7 272.5 661.9 272.4 665.1 272.3 668.3 272.2 671.5 272 674.8 271.9 678 271.7 681.2 271.6 684.4 271.4 687.6 271.2 690.8 271 694.1 270.7 697.3 270.5 700.5 270.2 703.7 270 706.9 269.7 710.1 269.4 713.3 269.1 716.5 268.7 719.7 268.4 722.9 268.1 726.1 267.7 729.3 267.3 732.5 266.9 735.7 266.5 738.9 266.1 742.1 265.7 745.3 265.2 748.5 264.7 751.7 264.3 754.8 263.8 758 263.3 761.2 262.7 764.4 262.2 767.5 261.7 770.7 261.1 773.9 260.5 777.1 259.9 780.2 259.3 783.4 258.7 786.5 258.1 789.7 257.5 792.8 256.8 796 256.1 799.1 255.5 802.3 254.8 805.4 254 808.6 253.3 811.7 252.6 814.8 251.8 818 251.1 821.1 250.3 824.2 249.5 827.3 248.7 830.4 247.9 833.6 247 836.7 246.2 839.8 245.3 842.9 244.5 846 243.6 849.1 242.7 852.1 241.8 855.2 240.8 858.3 239.9 861.4 238.9 864.5 238 867.5 237 870.6 236 873.7 235 876.7 234 879.8 232.9 882.8 231.9 885.8 230.8 888.9 229.8 891.9 228.7 894.9 227.6 898 226.5 901 225.3 904 224.2 907 223.1 910 221.9 913 220.7 916 219.5 919 218.3 922 217.1 924.9 215.9 927.9 214.6 930.9 213.4 933.8 212.1 936.8 210.8 M550.4 145 552.1 145.2 553.8 145.5 555.5 145.7 557.2 145.9 559 146.2 560.7 146.4 562.4 146.6 564.1 146.8 565.9 147 567.6 147.2 569.3 147.4 571 147.6 572.8 147.8 574.5 148 576.2 148.2 577.9 148.4 579.7 148.5 581.4 148.7 583.1 148.9 584.8 149 586.6 149.2 588.3 149.3 590 149.5 591.8 149.6 593.5 149.7 595.2 149.9 597 150 598.7 150.1 600.4 150.2 602.2 150.3 603.9 150.4 605.6 150.5 607.4 150.6 609.1 150.7 610.8 150.8 612.6 150.9 614.3 150.9 616 151 617.8 151.1 619.5 151.1 621.2 151.2 623 151.2 624.7 151.3 626.4 151.3 628.2 151.4 629.9 151.4 631.6 151.4 633.4 151.5 635.1 151.5 636.8 151.5 638.6 151.5 640.3 151.5 642.1 151.5 643.8 151.5 645.5 151.5 647.3 151.4 649 151.4 650.7 151.4 652.5 151.4 654.2 151.3 655.9 151.3 657.7 151.2 659.4 151.2 661.1 151.1 662.9 151.1 664.6 151 666.4 150.9 668.1 150.9 669.8 150.8 671.6 150.7 673.3 150.6 675 150.5 676.8 150.4 678.5 150.3 680.2 150.2 682 150.1 683.7 150 685.4 149.8 687.1 149.7 688.9 149.6 690.6 149.4 692.3 149.3 694.1 149.1 695.8 149 697.5 148.8 699.3 148.7 701 148.5 702.7 148.3 704.4 148.1 706.2 148 707.9 147.8 709.6 147.6 711.3 147.4 713.1 147.2 714.8 147 716.5 146.8 718.2 146.6 719.9 146.3 721.7 146.1 723.4 145.9 725.1 145.6 726.8 145.4 728.5 145.2 730.3 144.9 732 144.7 733.7 144.4 735.4 144.1 737.1 143.9 738.8 143.6 740.6 143.3 742.3 143 744 142.7 745.7 142.4 747.4 142.2 749.1 141.8 750.8 141.5 752.5 141.2 754.2 140.9 755.9 140.6 757.6 140.3 759.4 139.9 761.1 139.6 762.8 139.3 764.5 138.9 766.2 138.6 767.9 138.2 769.6 137.9 771.3 137.5 773 137.1 774.6 136.7 776.3 136.4 778 136 779.7 135.6 781.4 135.2 783.1 134.8 784.8 134.4 786.5 134 788.2 133.6 789.9 133.2 791.5 132.7 793.2 132.3 794.9 131.9 796.6 131.5 798.3 131 799.9 130.6 801.6 130.1 803.3 129.7 805 129.2 806.6 128.7 808.3 128.3 810 127.8 811.7 127.3 813.3 126.9 815 126.4 816.6 125.9 818.3 125.4 820 124.9 821.6 124.4 823.3 123.9 825 123.3 826.6 122.8 828.3 122.3 829.9 121.8 831.6 121.2 833.2 120.7 834.9 120.2 836.5 119.6 838.2 119.1 839.8 118.5 841.5 118 843.1 117.4 844.7 116.8 846.4 116.2 848 115.7 849.6 115.1 851.3 114.5 852.9 113.9 854.5 113.3 856.2 112.7 857.8 112.1 859.4 111.5 861 110.9 862.7 110.3 864.3 109.6 865.9 109 867.5 108.4 869.1 107.7 870.7 107.1 872.4 106.4 874 105.8 875.6 105.1 877.2 104.5 878.8 103.8 880.4 103.1 882 102.5 883.6 101.8 885.2 101.1 886.8 100.4 888.4 99.7 M479.6 -91.6 117.7 760.8 M518.8 -77.2 456.6 123.8 M559.2 -67 376.7 840.9 M600.4 -60.8 511 860.9 M642.1 -58.9 646.6 867.1 M683.7 -61.2 782.1 859.6 M724.9 -67.8 916.2 838.3 M765.2 -78.4 1047.4 803.6 M804.3 -93.1 1174.4 755.7"/>
<path class="c" d="M510 215.6 508.8 220 507.5 225 508.8 230 512.5 235 515 237.5 518.1 240 519.4 245 518.1 248.8 519.4 252.5 518.1 256.9 520.6 257.5 523.1 253.8 523.8 248.8 523.1 243.8 521.9 236.2 520.6 228.8 519.4 221.2 518.1 215 515 214.4 516.9 210.6 519.4 210.6 M510 215.6 513.8 215 518.1 215 M493.8 220 496.2 217.5 499.4 218.8 502.5 217.5 501.2 221.2 497.5 222.5 495 225 497.5 230 500 237.5 503.8 242.5 506.2 247.5 505 255 507.5 257.5 510 255 508.8 250 506.2 243.8 502.5 238.8 500.6 232.5 498.8 226.2 501.2 222.5 M495.6 221.2 496.9 227.5 499.4 235 M494.4 223.1 497.5 225 501.9 223.8 M500 212.5 503.8 210 505 213.8 501.9 215.6 500 212.5 M501.2 208.8 504.4 207.5 505.6 211.2 M574.4 111.1 570 114.9 566.9 119.2 562.5 123.6 558.1 128 555 134.2 551.2 139.9 550.2 144.9 548.8 150.5 548.1 156.8 550.6 159.9 550.6 165.5 551.5 161.1 558.8 162 559.8 170.5 561.2 181.8 558.1 184.9 561.2 183.6 571.9 181.8 576.2 185.5 580.6 187.4 M445 138.6 446.9 136.1 450 134.2 456.2 132.4 459.4 129.9 463.1 133.6 467.5 136.1 478.8 140.2 467.5 137 466.9 138.2 461.2 137.4 456.2 136.1 451.2 137.4 446.9 140.8 445 138.6 M436.9 136.1 438.8 134.2 441.2 135.5 441 139 438.8 141.2 437.2 139.2 436.9 136.1 M465.6 162 468.1 159.5 472.5 158.6 473.2 161.1 470.6 163 467.5 162.5 465.6 162 M488.1 161.8 489.4 157.4 491.2 154.5 495 153.2 496.2 154.9 494.8 159.2 492.2 163 489.8 161.1 488.1 161.8 M453.1 164.9 454.4 168 452.8 169.9 455.6 171.1 453.8 173 451.9 176.1 449.4 179.2 448.5 174.2 450.6 171.8 452.8 169.9 M470 191.5 472.5 188.8 476.9 189.9 475.8 192.5 472 193.8 470 191.5 M501.2 160.5 502.5 163.6 500 166.8 496.2 166.1 493.8 169.2 495 173 491.9 176.1 487.5 179.9 490 176.1 493.1 173.6 492.5 169.9 495 166.8 498.8 164.2 501.2 160.5 M511.9 180.8 515 178.2 518.8 177.4 521.9 175.5 524.4 170.5 522.8 173.6 520 176.8 516.2 179.2 511.9 180.8 M492.5 122.4 495 121.1 496.2 124.9 498.1 123.6 495 128 493.8 130.5 493.1 126.8 492.5 122.4 M503.8 134.9 504 131.1 505.2 128.6 506.9 131.1 506.5 136.1 503.8 134.9 M518.8 133.6 521.9 132.4 525 130.5 528.1 130.8 524.4 133 523.1 138 520.6 141.1 519.4 144.9 516.9 143 518.8 139.2 518.8 133.6 M543.1 212.8 545 208.6 548.8 209.9 546.2 211.1 543.1 212.8 M538.8 218.6 541.9 219.9 545 221.8 541.2 222 538.8 218.6 M620 119.9 622.5 114.9 630 113.2 631.9 115.5 628.1 121.1 623.8 124.2 620 123.6 620 119.9 M641.9 125.5 643.8 121.8 646.9 121.8 647.5 126.1 645 131.1 642.5 128.6 641.9 125.5 M654.4 121.8 658.1 119.2 666.2 120.5 668.1 123.2 671.9 121.8 675.6 123 680.6 119 683.8 121.1 686.2 123.6 687.8 126.8 690 128 691.9 131.1 694.4 132.4 696.2 134.5 700 134.9 703.8 134.5 706.9 133.6 708.1 137.4 705.6 139.2 707.8 142.4 707.5 146.8 700 148.6 705 147.8 708.1 148 709 151.1 707.5 155.5 710.6 157 710 161.1 708.1 164.9 711.2 163 715 161.8 718.8 163 720 168 717.5 172.4 722.5 169.9 725 166.8 729.4 164.2 731.9 160.5 734.4 163.6 734 157.4 736.2 148 735 144.2 737.5 139.2 740.6 138.6 M720 168 721.2 164.9 723.1 166.8 721.2 170.5 M705 134.9 706.9 138 705 139.9 703.8 136.8 705 134.9 M654.4 121.8 655 130.5 658.1 132.4 655 141.1 658.1 141.8 657.8 145.5 659.4 151.1 658.1 155.5 657.5 158.6 652.5 166.1 655 170.5 661.2 174.9 664 178.6 665.6 183 666.9 193 666.2 200.5 662.5 206.8 657.5 211.8 651.2 215.2 645 218 647.5 223 650 228 M643.8 201.8 646.2 198 648.1 194.2 650 196.8 648.8 201.8 645 203 643.8 201.8 M645 200.5 647.5 195.5 649 198.6 647.5 202 M700.6 112 705 114.2 710 117 716.2 118.2 722.5 119.9 727.5 121.5 728.1 118.6 725 114.9 721.9 112 M678.1 197.4 680 196.1 683.8 198 684.4 200.5 681.2 200.5 678.8 199.2 678.1 197.4 M688.8 211.8 692.5 209 696.9 208.4 695 210.8 690.6 212.8 688.8 211.8 M580 188 583.1 188 588.8 193 591.9 199.2 600 203 608.1 209.2 616.2 209.2 627.5 211.8 626.9 220.5 628.8 228 M580 191.5 582.5 188.6 M735.6 203 736.9 206.8 739.4 209.2 740.6 213 M730.6 206.8 733.1 213 729.4 218 731.9 223 736.2 228 M734.4 204.2 736.2 210.5 738.8 215.5 740.6 216.8 M738.8 139.2 740 140.8 743.8 145.5 746.2 148 748.8 151.1 751.9 155.5 755 160.5 752.5 165.5 755.6 164.2 758.8 166.8 761.2 170.5 758.8 173 761.9 173.6 764.4 174.9 766.9 178 765 181.8 760 181.8 763.8 184.2 765 187.4 768.8 188 772.5 190.5 776.2 191.8 776.9 195.5 776.2 199.2 778.8 196.1 781.2 195.5 783.8 196.8 786.2 194.9 789.4 198.6 791.9 198.2 794.4 196.8 797.5 198.6 800 200.5 796.9 203.6 790 206.8 785 209.9 783.8 214.2 780 219.9 783.8 218.6 785.6 214.9 790 211.8 795 206.8 798.8 204.2 802.5 206.8 804 209.9 802.5 212.4 805 210.5 807.5 208 812.5 209.2 815 214.2 811.9 221.1 815.6 220.5 818.1 223 818.1 228 M740 145.5 742.5 149.9 741.2 153 745 158 744.4 163 746.2 166.8 750 171.8 749.4 178 750 183 750.6 188 752.5 190.5 755 191.1 755.6 194.2 759.4 198 756.9 204.2 756.2 208 751.2 208 745 208 740 206.8 M740 154.9 743.8 155.5 747.5 158 750 160.5 M549.4 304.2 552.5 301.8 557.5 298 561.9 294.9 566.2 292.4 M549.4 304.5 553.8 303.6 557.5 303 558.1 307.4 561.2 308.6 M426.9 271.8 429.4 271.1 431.9 272.4 435 271.5 438.8 272 441.2 271.1 441.2 269.2 441.9 275.5 M427.5 272 432.5 271.8 437.5 272.4 441.5 271.8 M461.2 273.6 464.4 274 467.5 274.9 469.4 277.4 470.6 280.5 473.8 283.6 480 283.6 M461.9 274 468.1 275.5 471.2 281.1 474.4 284 479.8 284 M480.6 294.9 481.5 299.2 481.2 303 479.8 306.1 480.2 309.2 478.8 314.2 473.8 316.8 477.5 318 476.9 320.5 M481 298 480.8 308 479.2 314.2 M576.2 269.2 578.1 267.4 580.6 267.8 M576.2 269.2 575.6 273 577.5 276.1 580.6 277 M546.2 259.9 548.8 261.1 551.2 262.4 554.4 261.8 558.1 260.8 556.2 263.6 552.5 264.9 550 263.6 546.2 259.9 M547.5 260.8 551.9 263.6 556.9 262 M528.8 265.5 531.9 264.9 534.4 267.4 536.9 271.1 537.5 274.9 534.4 276.1 531.2 275.5 529.4 273 530 269.2 528.8 265.5 M530.6 266.8 533.1 269.2 535.6 273 532.5 274.9 531.2 271.1 530.6 266.8 M531.9 268 534.4 271.8 533.1 273.6 M539.4 280.2 543.1 283 546.2 284.9 548.8 287 545 285.8 541.9 283 539.4 280.2 M628.8 228 627.2 233 627.5 236.8 630 241.8 632.5 245.5 636.2 251.8 640 257.4 645 259.2 648.1 254.2 651.2 253 652.5 258 651.9 253 655 246.8 653.1 239.2 651.2 233 650.6 228 M629.4 237.4 633.1 234.9 636.9 236.1 638.8 240.5 635 239.9 631.2 239.2 629.4 237.4 M701.9 285.5 703.8 284.2 706.9 285.5 707.5 288 705 288.6 702.5 287.4 701.9 285.5 M679.4 289.2 681.9 286.8 685 285.5 686.9 288 690 290.5 686.2 289.9 684.4 288 682.5 290.5 680 291.1 679.4 289.2 M681.2 288 683.8 289.2 685.6 286.8 687.5 289.9 M688.8 261.8 690 258 692.5 255.5 696.9 254.2 697.5 256.1 693.8 259.2 691.2 263 690.6 268 688.1 269.2 687.5 266.8 688.8 261.8 M690 260.5 693.1 256.8 696.2 255.2 M689.4 265.5 691.9 259.2 695.6 256.1 M721.9 248 725 245.5 729.4 246.1 730.6 251.1 728.8 254.9 725 255.5 722.5 252.4 721.9 248 M723.8 248.6 726.9 247.4 729 249.9 727.5 253.6 724.8 253 723.8 248.6 M726.9 244.2 727.5 246.8 M723.8 259.9 724 264.2 725.6 270.5 724.8 265.5 723.8 259.9 M723.1 265.5 727.5 268.6 M712.5 276.1 715.6 272.4 718.8 269.2 720.6 275.5 717.5 273 714.4 274.9 712.5 276.1 M716.2 269.2 719.4 273 M736.9 228 736.2 233 740.6 234.2 M558.1 288.9 563.7 289.8 569.4 291.2 573.1 287.5 578.7 283.7 582 281.9 588.1 283.7 594.7 285.2 595.6 289.4 597 293.1 599.4 295.5 602.7 295.7 605.9 296.4 605.5 299.7 606.9 301.7 608.3 303.9 606.4 308.1 605.5 310.9 M558.1 308.6 560 308.1 563.7 307.2 569.4 304.8 573.1 303 576.9 301.6 580.6 300.2 583.4 300.2 580.2 302.5 578.3 304.8 576.9 307.2 578.3 306.2 582.5 307.2 583.9 309.1 585.3 310.5 590 312.3 594.7 310.5 600.3 310 605.5 309.5 M573.1 288.9 575.5 286.6 578.7 284.5 581.1 284.2 579.2 286.6 576.4 288.9 573.1 288.9 M582.5 326.9 581.1 329.7 578.7 332 579.7 333.9 582.5 331.1 584.8 328.7 586.2 325.5 584.8 329.7 583.4 331.1 582 336.2 581.1 340.9 579.7 345.6 579.2 351.2 579.2 357.8 580.2 362.5 582 366.7 M583.4 325 585.3 322.2 587.2 320.3 588.1 321.7 589.1 319.8 590.5 321.2 592.8 318.4 596.1 317.5 599.4 317 603.1 318.4 605 319.4 605.9 319.8 M587.2 319.6 588.6 321.7 M588.1 324.1 590.9 325 592.8 326.4 M605.5 320.3 604.5 323.1 603.6 325 600.3 327.8 598.9 331.6 597.5 332 598.4 328.7 599.4 327.3 598.2 331.1 594.7 331.1 593.3 336.2 591.4 340.9 590.9 345.6 591.4 355 590 361.6 587.2 365.3 582 366.7 M605.9 320.3 609.7 324.1 614.4 326.4 617.2 329.7 616.7 336.2 613.9 340 611.6 342.8 612.5 345.6 615.3 344.7 618.1 341.4 620.9 341.9 622.3 345.6 623.7 351.2 625.2 353.1 623.3 355.9 621.9 357.8 620.5 359.7 622.3 360.6 621.4 362 618.1 362.5 617.2 366.2 M605.5 310.9 605 308.1 606.9 308.1 607.8 310.9 610.6 312.8 611.6 315.6 612 316.6 M612 316.6 616.2 316.1 620.9 316.6 625.6 317.5 631.2 318.9 637.8 319.8 641.6 325.9 644.4 330.6 646.2 333 643.4 336.2 637.8 333.4 635.9 332.5 634.1 330.6 631.2 327.8 634.1 332.5 633.1 336.2 630.3 340 628.9 345.6 627.5 351.2 625.6 353.1 M617.2 319.8 620.9 319.4 627.5 320.3 630.3 321.2 629.4 324.1 625.6 322.7 620.9 321.2 617.2 319.8 M620 320.1 624.7 321.7 628.9 322.7 M615.3 318.4 620 324.1 624.7 325.9 M644.8 331.1 646.7 332.5 644.8 334.4 M643 286.6 645.8 286.1 648.1 288 650 290.3 648.1 288.9 646.7 289.4 644.8 288 643 286.6 M728.9 218.9 730 220 734.4 224.4 737.7 228.2 736.6 232 740.4 230.9 742.6 238 746.4 240.2 751.3 239.7 756.2 244.1 758.4 241.9 757.3 235.3 756.8 228.7 759.5 226 761.7 230.4 759 233.1 761.2 238 M761.2 238 784.7 234 809.3 229.3 810.9 234.8 M812 220.5 817.5 221.6 818.6 225.5 816.4 229.8 813.1 233.7 810.9 235.3 806.6 236.4 802.2 239.1 800 240.2 798.4 243.5 797.3 246.2 793.4 251.7 789.1 254.5 782.5 256.1 771.6 257.7 760.6 259.9 751.9 261.6 745.3 262.7 743.1 265.4 740.9 267 739.8 272.5 735.5 274.7 730 278.5 727.8 279.6 M746.4 221.6 748 223.3 749.7 222.2 M759 263.7 763.9 262.1 771.6 263.7 778.1 265.9 783 269.2 780.3 270.3 773.7 270.9 768.3 269.2 762.8 265.9 759 263.7 M727.8 286.7 730 285.6 735.5 281.2 742 276.9 749.7 273.6 756.2 272.5 762.8 274.1 765 276.9 763.4 281.2 760.6 284.5 757.3 286.7 751.9 285.6 746.4 287.8 740.9 290 735.5 291.1 734.4 294.4 733.3 296.6 730 298.7 727.8 299.3 M757.3 286.7 761.7 288.9 762.3 292.2 760.6 295.5 759 297.7 761.7 297.7 763.9 300.9 766.1 305.3 768.3 307.5 773.7 308.6 779.2 307.5 784.7 309.7 789.1 306.4 791.2 308.6 790.7 305.3 792.9 298.7 795.1 292.7 797.3 291.1 798.4 295.5 797.3 300.9 801.1 299.8 803.3 303.1 800 306.4 795.6 308.6 793.4 310.8 795.6 313 791.2 314.1 786.9 317.3 782.5 320.6 775.9 323.4 771.6 325 M795.6 303.1 798.9 300.9 801.6 302 797.8 305.9 795.6 303.1 M796.2 304.2 800 301.5 M767.2 298.7 768.3 296.6 770.5 300.9 775.9 302 781.4 301.5 786.3 300.4 783.6 303.1 782.5 306.4 779.8 304.2 775.9 304.8 771.6 304.2 768.8 302.6 767.2 298.7 M748.6 323.4 751.9 320.6 757.3 318.4 762.8 314.1 766.6 310.2 768.3 307.5 M758.4 325 762.8 320.6 767.2 317.3 769.4 315.2 771.6 311.9 M766.1 316.2 771.6 315.4 777 314.6 771.6 319 768.3 317.3 766.1 316.2 M820.8 230.9 817.5 232 814.2 235.3 812 241.9 810.9 248.4 811.5 251.7 810.4 256.1 811.5 260.5 809.3 263.7 806.6 268.1 803.3 272.5 807.7 270.9 808.7 272.5 805.5 278 803.8 281.2 805.5 283.4 810.9 281.2 817.5 279.6 824.1 277.4 828.4 275.8 831.7 274.7 835 275.8 838.3 274.1 839.4 276.9 836.1 281.2 832.8 284.5 831.7 282.9 835 279.6 837.7 276.9 840.5 275.8 842.7 271.4 845.9 272.5 846.5 279.1 848.1 282.3 851.4 282.9 854.7 281.2 855.2 274.7 853.6 268.1 851.4 264.8 850.3 271.4 848.1 268.1 848.7 261.6 845.9 263.7 843.7 268.1 841.6 263.7 843.7 259.4 842.7 252.8 838.3 251.7 835 253.4 831.7 257.2 828.4 256.1 825.2 255 823 252.8 824.1 250.1 819.7 249.5 817.5 252.8 817 247.3 818.6 241.9 820.8 235.3 822.4 230.9 820.8 230.9 M826.2 274.7 830.6 276.9 833.9 274.7 M847.6 274.7 849.8 279.1 852.5 276.9 M755.6 207.3 749.1 207.9 742.5 209.5 738.1 206.2 734.3 203 730.5 206.8 732.7 210.6 729.4 216.1 730.7 220.5 M733.7 203 735.9 207.3 738.1 209.5 739.8 212.8 741.4 215 744.1 218.3 746.9 221.6 748 218.3 749.1 217.2 749.9 214.5 751.2 212.8 753.4 215 755.6 216.1 758.4 215.5 761.1 213.9 757.8 211.7 752.3 209.5 746.9 208.4 M737 207.9 741.4 213.9 745.8 217.2 746.9 222.7 749.1 222.1 M751.2 208.4 752.9 212.8 754.5 215.5 M727.5 340 725 343.8 721.2 350 719.4 352.5 722.5 351.2 721.2 355 723.8 358.8 726.9 358.8 728.8 360 730 363.1 727.5 363.8 723.8 363.1 720.6 365.6 717.5 366.9 711.2 368.8 705 370.6 698.8 373.1 696.9 376.2 695 380 696.2 385 695 390 691.2 395 688.8 398.8 686.9 396.9 685 392.5 683.8 390 M726.9 358.8 729.4 361.9 728.1 364 M695 379.8 700 376.2 705 373.8 710.6 371.9 710 373.8 705 376.2 698.8 378.8 695 380 M685 392.5 688.1 400 687.5 404.4 686.2 410 683.1 415 680.6 420 680 422.5 681.2 426.2 M681.9 390.6 678.8 392.5 676.2 395 675 398.8 676.9 402.5 675.6 405 678.1 407.5 680 405 678.8 400 680 396.2 678.8 392.5 M676.2 393.8 675.2 400 678.8 406.2 M677.5 395 679.4 402.5 M668.8 403.1 670.6 405.6 673.8 408.1 676.9 410 674.4 411.9 671.9 410 676.2 413.8 673.1 415 672.5 418.1 675.6 416.9 677.5 420 680 422.5 M675 410 678.8 415 680 420 M672.5 415 676.9 418.1 M680 426 683.8 430 685.6 433.1 682.5 436.9 680 438.8 678.8 443.8 675 447.5 670 450 665 453.1 662.5 455.6 658.1 458.1 655 460 M680 427.5 681.9 431.2 684.4 433.8 M673.8 431.9 677.5 431.2 680 433.8 678.8 436.2 675 433.8 673.8 431.9 M672.5 438.8 676.2 440 678.8 443.8 675 445.6 673.1 442.5 672.5 438.8 M675.6 441.2 677.5 443.8 M468.1 532 467.5 527 466.9 522 468.1 517 465.6 516.4 468.1 514.5 470 512 473.8 508.9 478.8 504.5 481.2 503.2 483.1 505.8 487.5 503.2 492.5 502.6 495 499.5 497.5 495.8 498.1 497.6 500 497 506.2 495.8 509.4 495.8 513.8 495.8 518.8 498.2 522.5 499.5 526.2 497.6 530 500.1 533.8 502 536.2 505.8 540 505.8 543.8 503.2 545 505.8 548.8 504.5 551.2 508.2 554.4 507 551.9 503.2 552.5 499.5 548.8 495.8 543.8 494.5 546.2 492 551.2 495.1 557.5 493.2 562.5 493.9 566.2 490.8 567.5 494.5 571.2 493.9 571.9 489.5 575 492.6 580.6 493.9 M545 502 547.5 503.9 550 502 552.5 505.8 M468.1 533.2 466.2 537 462.5 539.5 460.6 544.5 458.8 552 456.9 562 455 570.8 454.4 572 M461.2 539.5 463.8 538.2 465 540.8 462.5 543.2 M423.1 478.2 428.8 479.5 433.8 481.4 438.8 489.5 441.2 497 443.8 504.5 445.6 508.2 447.5 510.8 448.8 518.2 451.2 524.5 456.2 528.2 462.5 530.8 468.1 532.6 M443.8 507 438.8 509.5 434.4 512 435.6 515.8 428.8 520.1 431.2 527 432.5 533.2 436.2 535.1 430 535.8 428.8 544.5 430.6 552 429.4 558.2 432.5 559.5 433.1 564.5 438.8 567 443.8 570.1 451.2 571.4 M445 508.2 446.9 517 450 524.5 453.8 529.5 453.1 537 446.9 539.5 445 542 440 545.1 440.6 552 434.4 555.8 432.5 559.5 M423.1 538.2 428.8 542 423.1 545.1 M652.5 452 658.1 457 662.5 457 666.2 453.2 667.5 450.8 M658.1 457.6 655 460.8 652.5 464.5 647.5 468.2 642.5 472 637.5 474.5 635 477.6 632.5 483.2 630.6 488.2 630 492.6 630.6 498.2 632.5 504.5 635.6 512 638.1 517 636.9 518.2 638.8 518.9 640 524.5 642.5 530.8 645 535.8 645 542 643.8 548.2 642.5 553.2 641.2 557 638.1 555.8 633.8 556.4 634.4 552 631.2 549.5 627.5 547 626.2 542 623.8 539.5 623.1 537 620 533.2 618.1 529.5 617.5 524.5 618.8 519.5 618.1 513.9 615 509.5 611.2 505.8 608.1 501.4 605 500.1 600 501.4 596.2 503.2 592.5 503.9 591.2 500.8 587.5 497.6 583.8 495.1 580 494.5 M616.9 523.9 619.4 525.1 620 527.6 617.5 527 616.9 523.9 M634.4 535.8 637.5 533.2 638.8 537 636.9 539.5 634.4 535.8 M669.4 536.4 673.8 538.9 675.6 542 673.8 548.2 672.5 545.8 674.4 542 672.5 539.5 669.4 536.4 M663.8 556.4 666.2 555.8 668.8 562 667.5 564.5 670 566.4 671.9 570.1 669.4 571.4 667.5 567 665 565.1 661.9 562.6 663.8 556.4 M635.6 475.1 638.1 472.6 636.9 477 M632.5 482 634.4 478.9 M749.4 322.5 750 325 747.5 326.9 744.4 328.1 741.2 331.2 738.8 330 736.2 332.5 734.4 331.2 733.1 336.2 730 336.9 726.9 340 725.6 341.9 M726.9 337.5 729.4 338.8 728.1 341.2 M761.2 323.1 758.4 325.6 756.9 330 758.1 335.6 762.5 337.5 764.4 338.8 766.2 335.6 770 331.2 771.9 326.9 773.8 323.8 778.1 324.4 780 321.9 M456.2 564 454.4 570.2 455 576.5 456.9 582.8 457.5 589 460 596.5 463.8 602.1 465.6 609 468.1 615.2 472.5 619 476.9 620.9 481.2 625.9 483.8 627.8 490 626.5 495 625.9 501.2 625.2 507.5 624.6 512.5 626.5 516.2 627.1 518.8 624 520 622.8 525 619.6 528.1 615.2 530 610.2 530.6 604 533.1 599.6 536.2 597.5 542.5 597.1 550 595.2 557.5 594.2 563.8 595.9 568.1 597.1 569.4 595.9 571.9 600.2 570.6 604 567.5 607.8 565 612.1 562.5 616.5 561.2 622.8 558.8 630.2 557.5 635.2 555.6 634 556.2 627.8 552.5 631.5 550 634 551.2 639 550.6 644 551.2 649 550 654 547.5 659 546.2 661.5 M455.6 579.6 457.5 581.5 458.1 584 456.2 582.8 455.6 579.6 M506.2 625.5 511.2 627.8 516.2 628 M423.8 635.2 430 637.8 435 641.5 441.2 647.1 447.5 649.6 455 653.4 462.5 652.1 470 650.2 476.2 650.2 482.5 652.1 488.8 656.5 495 664 501.2 671.5 506.2 677.8 511.2 681.5 515 684 M433.1 616.5 438.8 622.8 445 622.8 448.8 620.2 452.5 622.1 457.5 620.2 461.2 617.8 463.8 621.5 466.9 625.2 466.2 630.2 470 632.8 473.8 632.1 475.6 636.5 482.5 638.4 488.1 639.6 M440 622.8 438.8 629 441.2 634 437.5 639 435.6 641.5 M488.1 639.6 485 645.2 484.4 652.1 M487.5 628.4 490 635.2 491.9 637.8 488.1 639.6 M491.9 637.8 495.6 632.1 498.8 632.8 500 637.8 502.5 639 507.5 635.2 512.5 634 516.2 632.1 521.2 635.9 M509.4 625.2 510 631.5 512.5 634 516.2 641.5 520 642.8 521.2 635.9 531.2 637.1 540.6 638.4 M516.2 641.5 521.2 647.8 526.2 654 525.6 657.1 518.8 656.8 511.2 656.5 507.5 661.5 504.4 665.2 505 671.5 506.2 676.5 510 680.9 M533.1 604.6 537.5 610.2 541.2 615.2 551.9 610.9 562.5 605.2 563.8 596.5 M541.2 615.2 541 626.5 540.6 637.8 540 649 539.4 660.2 M540.6 637.8 543.1 637.8 550 634 M543.1 637.8 542.5 645.2 550 644 M542.5 645.2 541.9 651.5 548.8 649 M541.9 651.5 541.2 656.5 547.5 654 M541.2 656.5 540 660.2 M495 663.7 500.6 670.3 506.2 676.9 511.9 681.6 518.4 683.4 523.1 685.3 527.8 689.1 534.4 690.9 540 693.3 545.6 695.2 551.2 695.6 555 694.7 556.9 696.1 555 698.4 558.7 702.2 560.6 705 562.5 705.9 566.2 710.6 570 715.3 574.7 720 577.5 722.8 576.6 726.6 577.5 730.3 575.6 733.1 576.6 735 M552.2 645 551.7 649.7 549.4 653.4 547.5 657.2 546.1 660.5 548.4 661.9 551.2 663.7 555 662.3 559.7 661.9 564.4 663.7 570 664.7 575.6 662.8 579.4 663.3 584.1 663.7 588.7 663.3 593.4 664.7 598.1 667 602.8 670.3 606.6 673.1 609.4 675.5 608.9 676.9 608 682.5 605.6 688.1 604.2 693.7 603.7 701.2 602.8 705.9 600.9 710.6 600 716.2 599.1 721.9 600.9 725.6 603.7 729.4 606.6 735 M588.7 663.7 594.4 665.8 598.1 668.9 601.9 672.4 606.1 673.6 M601.9 702.2 604.2 703.1 603.7 706.9 601.9 705.9 M510.5 656.2 518.4 656.7 525.9 657.2 532.5 659.1 539.1 660.5 540 660 541.4 650.6 542.8 645 M510.5 656.2 507.2 660.9 504.4 664.7 504.8 671.2 509.1 675.9 511.9 681.6 M518 645 523.1 648.7 525.9 652.5 526.4 657.2 M540 660 542.8 659.1 546.1 660.5 M547.5 645 547 650.6 543.7 654.4 541.9 659.1 M550.3 645 549.8 648.7 547.5 652.5 M518.4 656.7 515.6 662.8 517 668.4 M523.1 657.7 521.7 662.8 524.1 667 M504.8 665.2 510 664.2 515.6 663.3 M517 668.4 524.1 667 530.6 667.5 536.2 663.7 539.1 660.5 M509.1 675.9 510.5 671.2 513.7 668.4 517 668.4 M510 672.2 514.7 673.1 518.4 672.2 523.1 673.1 526.9 671.2 530.6 667.5 M514.7 673.1 513.7 677.8 512.3 681.1 M518.4 672.2 520.3 676.9 518.9 682.5 M523.1 673.1 524.1 678.7 523.1 684.8 M526.9 671.2 528.7 675.9 527.8 680.6 527.3 688.1 M530.6 667.5 532.5 672.2 536.2 673.1 540 670.3 545.6 666.6 550.3 664.2 M536.2 663.7 537.2 668.4 536.2 673.1 M505.8 669.4 509.1 668.4 510.9 665.2 M507.2 673.1 510 672.2 M516.6 677.3 520.3 676.9 524.1 678.7 527.8 680.6 532.5 679.7 536.2 681.6 540 682.5 M532.5 672.2 533.4 676.9 532.5 679.7 M536.2 673.1 537.2 677.8 536.2 681.6 535.3 686.2 534.4 690.9 M540 670.3 541.9 674.1 540 677.8 540 682.5 M513.7 677.8 516.6 677.3 M515.6 682 518.9 682.5 523.1 684.8 M519.8 678.7 523.1 680.6 M524.5 682.5 527.8 684.4 M523.1 675.9 526.9 675.9 M540 682.5 543.7 680.6 547.5 684.4 551.2 686.2 555 688.1 556.9 691.9 555.9 694.7 M537.2 686.2 540 687.2 541.9 690 540.9 693.3 M543.7 684.4 544.7 689.1 546.1 694.7 M547.5 684.4 548.9 690 550.3 695.2 M551.2 686.2 552.2 690.9 554.1 694.7 M540 687.2 543.7 686.2 547.5 688.1 551.2 689.1 555 690.9 M541.9 690 545.6 690.9 548.9 691.9 552.2 692.8 M550.3 664.2 547.5 668.4 544.7 673.1 541.9 676.9 540 682.5 M551.2 663.7 553.1 669.4 555 673.1 556.9 676.9 555 680.6 558.7 684.4 560.6 689.1 562.5 690 M559.7 662.3 555.9 666.6 555 673.1 M555 673.1 560.6 672.2 566.2 673.1 568.1 677.8 566.2 681.6 562.5 686.2 560.6 689.1 M566.2 673.1 570 669.4 572.8 665.2 M568.1 672.2 572.8 668.4 579.4 667.5 585 670.3 587.8 675.9 585 681.6 579.4 685.3 575.6 684.4 570 680.6 567.2 676.9 568.1 672.2 M587.8 664.2 587.3 670.3 588.7 675.9 M572.8 665.2 572.8 668.4 M579.4 667.5 577.5 663.7 M544.7 673.1 548.4 675 551.2 678.7 555 680.6 M541.9 676.9 545.6 678.7 547.5 684.4 M548.4 675 550.3 670.3 553.1 669.4 M551.2 678.7 551.2 686.2 M556.9 676.9 560.6 677.8 563.4 675.9 566.2 673.1 M558.7 684.4 562.5 686.2 M555 680.6 555 688.1 M560.6 689.1 558.7 691.9 556.9 691.9 M562.5 690 564.4 689.1 570 686.2 575.6 684.4 M579.4 685.3 584.1 682.5 587.8 680.6 588.7 675.9 594.4 677.8 600 675.9 606.6 674.1 M564.4 689.1 566.2 693.7 570 697.5 568.1 703.1 566.2 710.6 M570 697.5 577.5 695.6 583.1 691.9 587.8 687.2 588.7 682.5 587.8 680.6 M577.5 695.6 581.2 701.2 585.9 702.2 583.1 697.5 583.1 691.9 M571.9 701.2 579.4 703.1 585 706.9 588.7 712.5 594.4 720 598.1 722.8 600 727.5 M568.1 710.6 572.8 708.7 575.6 705 M575.6 705 577.5 710.6 579.4 716.2 585 721.9 588.7 723.7 594.4 727.5 598.1 729.4 M571.9 712.5 573.7 718.1 577.5 722.8 M582.2 724.7 585 722.8 588.7 724.7 592.5 728.4 596.2 732.2 598.1 735 M582.2 724.7 579.4 726.6 581.2 730.3 585 733.1 588.7 735 M560.6 697.5 564.4 698.4 568.1 703.1 M562.5 705.9 567.2 705 571.9 701.2 M585.9 702.2 588.7 706.9 594.4 710.6 600.9 710.6 M587.8 687.2 594.4 689.1 605.6 688.1 M588.7 712.5 594.4 712.5 600 716.2 M572.8 714.4 574.7 714.8 574.2 716.7 572.3 716.1 572.8 714.4 M592.5 594 597.5 592.1 598.8 588.4 602.5 584.6 608.8 582.1 615 580.9 621.2 579.6 627.5 579.6 632.5 580.9 637.5 580.9 643.8 582.8 648.8 585.2 653.8 588.4 660 589.6 665 592.1 670 594.6 675 597.1 680 600.2 686.2 602.1 692.5 603.4 693.8 605.9 698.8 606.5 703.8 607.8 707.5 610.2 710 612.1 705 614 698.8 615.2 692.5 615.9 686.2 616.5 680 617.1 675 617.8 671.2 618.4 672.5 615.9 675.6 613.4 676.9 610.2 675 608.4 670 607.8 665 606.5 662.5 604 661.2 600.2 658.8 597.8 653.8 597.1 648.1 596.8 645 595.9 641.2 593.4 637.5 592.1 632.5 591.5 627.5 590.9 623.8 589.6 623.1 588.4 626.9 587.8 627.5 585.9 622.5 585.2 616.2 585.2 612.5 587.1 608.8 589 603.8 590.9 598.8 593.4 595 594.6 592.5 594 M673.8 595.9 676.9 598.4 M610.6 597.1 613.1 594.6 616.9 594.6 618.1 597.1 616.2 599.6 612.5 599.6 610.6 597.1 M664.4 636.5 667.5 634.6 672.5 634 678.8 634.6 683.8 636.5 687.5 639 686.2 640.9 680 640.9 677.5 642.8 672.5 642.1 668.8 639.6 664.4 636.5 M670 635.2 670.6 640.2 M675 634.6 675.6 642.1 M680 635.2 680 640.9 M667.5 637.8 675 637.8 683.8 638.4 M672.5 637.8 673.1 641.5 M677.5 637.8 678.1 642.1 M740.6 613.4 733.8 613.4 727.5 614 721.2 614.6 718.1 617.1 721.2 619 725.6 619 726.2 624 727.5 627.8 731.9 629.6 733.8 632.1 728.8 632.8 722.5 632.1 716.2 630.2 710 630.2 707.5 632.1 708.8 634.6 713.8 635.9 720 635.9 730 636.5 740.6 636.8 M737.5 614 736.2 620.2 735.6 626.5 736.9 631.5 740.6 634 M714.4 601.5 717.5 599.6 721.2 598.4 721.2 601.5 717.5 603.4 714.4 601.5 M728.9 615 730 614.9 736.6 614.3 740.9 612.7 746.4 612.7 751.9 614.3 757.3 615.4 759.5 618.7 763.9 618.1 766.1 619.8 770.5 620.9 774.8 623.6 776.5 625.8 774.8 628.5 772.7 630.2 770.5 628.5 766.1 628 761.7 628.5 757.3 629.6 754.1 631.8 749.7 631.3 746.4 634 744.2 638.4 742.6 640 740.4 638.4 738.7 636.2 734.4 634 730 633.5 727.8 633.1 M737.7 614.3 738.2 620.9 736.6 625.2 738.2 629.6 736.6 634 M788.5 625.2 791.2 623.6 797.8 623.3 806.6 623.1 807.7 624.7 805.5 628 802.2 629.6 795.6 629.6 789.6 630.9 788.5 625.2 M853.6 639.5 855.8 638.9 856.3 644.4 854.1 641.7 853.6 639.5 M730 628.5 731.6 628.7 731.6 630.3 730 630.3 M760.6 618.1 763.4 617 765.5 618.1 M607.3 676 608.4 680.4 606.8 685.8 604.6 691.3 603.5 697.9 603 703.3 601.3 707.7 601.9 712.1 600.2 716.5 599.7 721.9 601.9 726.3 604.6 730.7 607.3 735.1 610.6 739.4 613.9 742.2 617.2 743.8 618.3 747.1 622.7 748.2 625.9 750.9 629.2 752 633.6 751.5 638 748.7 642.3 747.1 646.7 746 650 742.7 654.4 742.2 658.7 743.3 664.2 744.4 669.7 746 674.1 748.7 677.3 752.6 680.1 755.8 682.8 760.2 M602.4 702.2 603.5 704.4 602.4 707.2 M636.9 760.8 636.9 752.6 642.3 750.4 645.6 747.1 645.6 756.9 M645.6 754.7 650 751.5 654.4 749.8 658.7 750.4 663.1 752.6 666.4 755.8 670.8 756.9 671.9 760.8 M646.7 746 651.1 744.4 656.6 744.4 665.3 746 671.9 748.2 676.2 752.6 680.6 760.2 M665.3 751.5 668.6 750.4 670.8 748.2 M666.4 755.8 668.6 757.5 667.5 760.2 M683.9 754.7 688.3 751.5 692.7 746 695.9 743.3 699.2 742.7 699.8 738.3 699.2 734 701.4 728.5 704.7 725.2 708 721.9 711.2 722.5 714.5 724.1 715.6 720.8 716.7 718.1 720.5 718.1 M699.2 742.7 703.6 746 704.7 752.6 709.1 756.9 711.2 760.8 M700.3 734 705.8 737.2 709.1 743.8 713.4 750.4 712.3 756.9 713.4 760.8 M709.1 721.9 708 728.5 710.2 732.9 715.6 741.6 720.5 743.8 M704.7 725.2 706.9 730.7 710.2 732.9 M683.9 754.7 687.2 760.8 M691.6 751.5 692.7 756.9 691.6 760.8 M712.3 724.1 714.5 727.4 716.7 724.1 M580 732.9 583.3 737.2 588.7 740 593.1 743.8 597.5 747.1 600.8 751.5 599.7 754.7 604.1 756.9 607.3 754.7 609.5 760.2 M582.2 734 581.1 738.3 583.8 740 585.5 737.2 M584.9 701.2 588.7 712.1 595.3 721.9 601.9 727.4 M580 712.1 585.5 717.6 590.9 721.9 596.4 726.3 595.3 735.1 M595.3 723 595.3 735.1 597.5 736.2 M580 721.9 584.4 725.2 588.7 730.7 586.6 735.1 582.2 734 M588.7 730.7 593.1 735.1 597.5 736.2 601.9 737.2 607.3 735.6 M599.7 737.2 603 746 601.9 751.5 M609.5 739.4 610.6 747.1 617.2 751.5 623.7 754.7 628.1 755.8 627 760.8 M610.6 747.1 607.3 752.6 609.5 759.1 M617.2 743.8 619.4 749.3 625.9 751.5 M631.4 752 630.9 755.8 628.1 755.8 M587.7 676 586.6 681.5 588.7 686.9 584.4 692.4 583.3 697.9 584.9 701.2 M580 684.7 586.6 681.5 M580 695.7 584.4 692.4 M580 703.3 585.5 705.5 584.9 701.2 M588.7 686.9 594.2 685.8 601.9 681.5 607.3 677.1 M603 752.6 607.3 752.6 M617.2 759.1 623.7 758 627 760.2 M710 722.9 715 721.6 716.2 719.1 722.5 718.5 727.5 717.2 732.5 712.2 737.5 709.8 740 706 743.8 702.9 747.5 702.2 751.9 704.1 752.5 707.2 748.8 710.4 743.8 712.2 743.1 714.8 746.2 718.5 748.8 721 752.5 719.1 760 715.4 765 713.5 765 711 763.1 708.5 763.8 705.4 766.2 704.8 769.4 708.5 770 711 775 710.4 781.2 711 786.2 713.5 788.8 717.2 788.1 719.8 795 721 800 719.1 807.5 717.2 813.8 716.6 817.5 719.1 821.2 721 826.2 721 831.2 719.8 835 717.2 837.5 713.5 842.5 712.2 848.8 710.4 855.6 708.5 M837.5 713.5 841.2 714.1 847.5 712.9 855.6 711.6 M836.9 712.9 841.2 711.6 844.4 712.2 840 713.5 M750 721.6 747.5 726 745 731 743.8 734.8 746.2 738.5 748.8 743.5 753.8 742.2 756.2 738.5 756.9 733.5 753.8 728.5 750 721.6 M745.6 731.6 744.8 736 746.9 739.8 M752.5 719.8 757.5 726 760 728.5 762.5 726 768.8 723.5 776.2 721 785 719.8 788.1 719.8 M760 728.5 761.2 733.5 765 734.8 768.8 736 770 739.8 768.8 743.5 M780 723.5 779.4 728.5 782.5 729.8 787.5 728.5 791.2 726 795 724.8 796.2 721 M782.5 729.8 785 734.8 787.5 741 786.9 744.8 795 745.4 795.6 738.5 795 733.5 797.5 729.8 802.5 727.9 806.2 729.8 807.5 733.5 810 734.1 810.6 729.8 808.8 726 803.8 723.5 800 723.5 796.2 724.8 M795.6 738.5 797.5 746 802.5 751 810 753.5 817.5 752.9 825 749.8 830 743.5 831.2 738.5 833.8 736 830 732.2 826.2 729.8 822.5 727.2 821.2 724.8 822.5 722.2 M787.5 741 785 748.5 780 751 775 756 771.2 759.1 M770 743.5 775 746 780 748.5 785 751 M797.5 751 785 754.8 777.5 756 M802.5 751 816.2 753.5 813.8 759.1 M840 721 843.8 724.8 842.5 728.5 846.2 731 851.2 733.5 855.6 732.2 M710 733.5 717.5 734.8 722.5 731 725 726 723.8 722.2 722.5 718.5 M722.5 731 727.5 736 725 741 727.5 746 726.2 751 727.5 759.1 M732.5 712.2 735 717.2 732.5 723.5 731.2 729.8 728.8 738.5 725 746 723.8 759.1 M743.1 714.8 738.8 719.8 735 726 732.5 732.2 728.8 743.5 M732.5 743.5 737.5 748.5 741.2 752.2 747.5 749.8 752.5 746 757.5 741 M741.2 752.2 740 759.1 M747.5 749.8 750 754.8 753.8 759.1 M752.5 746 760 744.8 765 744.1 770 743.5 M710 746 713.8 749.8 715 756 712.5 759.1 M717.5 734.8 720 741 717.5 746 721.2 747.2 M727.5 746 732.5 743.5 M762.5 705.4 765 704.1 768.1 706.6 768.8 710.4 765 711.6 762.5 709.1 762.5 705.4 M500.8 209.4 505.1 211.1 503.4 215.4 500.8 218 497.3 219.7 495.6 224.9 499.1 228.3 497.3 233.5 500.8 238.6 504.2 243.8 505.9 250.7 M502.5 211.1 505.9 213.7 501.6 219.7 498.2 223.2 494.8 222.3 496.5 228.3 499.9 231.8 M493.9 221.4 497.3 226.6 500.8 235.2 502.5 240.3 M499.9 212 504.2 209.4 505.9 212 M566.1 114.9 569.5 113.2 571.3 115.7 567.8 118.3 565.2 120.9 562.7 120 563.5 124.3 560.9 125.2 M567.8 114 564.4 118.3 561.8 122.6 M442.1 570.4 445.8 570.8 449.2 572.1 451.7 571.2 454.6 573.3 M454.6 575 457.1 579.2 458.3 582.9 456.7 585 455.4 581.7 454.2 577.5 454.6 575 M449.2 572.1 446.7 575.8 445 580 445.8 583.3 445 585.4 447.9 586.7 448.3 589.2 445 590 443.3 592.9 445 594.2 448.3 593.3 450.4 590.8 452.5 591.7 452.1 595 453.3 597.5 456.7 598.3 455.4 600.8 454.2 604.2 455.8 606.7 456.7 609.2 454.6 610.8 453.3 615 455.8 617.5 459.2 618.3 461.7 618.8 M424.2 575.8 427.5 575.8 430.8 578.3 433.3 579.6 437.5 578.8 438.8 581.7 441.7 583.3 445 583.8 M424.2 584.2 427.5 585 430.8 586.7 429.2 590 427.5 591.7 425 593.3 M430.8 586.7 434.2 588.3 435.8 585.4 438.8 583.3 M427.5 591.7 430 594.2 432.5 596.7 436.7 597.5 440 600 442.5 602.1 445 603.3 M441.2 604.2 444.2 602.9 447.5 603.8 450 607.5 447.5 608.8 444.2 609.2 442.1 606.7 441.2 604.2 M432.5 605 434.6 603.3 435.4 606.7 434.6 609.2 432.5 608.3 432.1 606.2 432.5 605 M424.2 611.7 427.5 610.8 430 613.3 432.5 615.8 435 615 437.5 616.2 437.1 613.3 439.2 606.7 440.4 601.7 M430 613.3 433.3 618.3 435 620 M424.2 595 427.5 591.7 M440 600 439.6 603.3 438.3 606.7 M445 594.2 446.7 598.3 445 601.7 442.5 602.1 M424.2 544.2 426.7 542.1 428.3 540 M460.8 540 460 545 458.8 549.2 M741.2 265 739.7 273.6 735 275.2 730.3 278.3 727.2 282.2 725.2 287.7 722.5 291.6 720.2 296.2 717.8 299.4 716.2 303.3 713.1 306.4 710 308 706.9 308.8 703.8 311.9 699.8 315 697.5 318.9 694.4 322 691.2 324.4 688.9 326.7 685 329.8 681.1 332.2 677.2 335.3 674.1 338.4 670.9 340.4 667.8 342.3 M760.4 272.8 753.8 272.8 748.3 274.4 742 277.5 736.6 280.6 731.9 284.5 728 288.4 724.8 292.3 722.5 296.2 720.2 299.4 718.6 302.5 716.2 303.3 M717.8 299.4 719.4 297 721.7 296.2 720.5 298.6 718.6 300.5 M688.9 326.7 689.7 324.4 692.8 322.8 695.9 321.2 695.2 323.2 692 325.5 M616.2 366.9 616.9 365 620 362.5 625 361.2 630 359.4 635 357.5 640 357.5 645 356.2 650 353.8 653.1 353.1 653.8 356.2 653.1 357.5 650 360 645 363.1 640 365 635 366.9 630 368.8 625 370.6 620 370 616.2 367.5 616.2 366.9 M618.8 366.2 622.5 364.4 627.5 363.1 632.5 361.2 637.5 359.8 642.5 359 647.5 357.5 651.2 355.6 M620 368.1 625 368.8 630 366.9 635 365 640 363.1 645 361.2 649.4 359 651.9 356.9 M653.1 353.1 650 351.9 647.5 351.2 M646.9 350 647.5 348.1 650 345.6 655 343.8 660 342.5 665 341.2 670 340 674.4 340.6 675.6 343.8 673.8 346.2 670 348.1 665 347.5 658.8 348.1 652.5 350 647.5 351.2 646.9 350 M649.4 349 652.5 346.9 657.5 345.4 665 344 671.2 343.1 673.8 343.8 671.2 345.6 665 345.9 658.8 346.6 652.5 348.5 649.4 349 M666.2 340.6 668.8 340 670 341.9 667.5 342.5 666.2 340.6 M620 357.5 621.9 356.2 623.1 358.8 621.2 360 620 357.5 M675.6 343.8 678.8 340 682.5 336.2 687.5 332.5 M465.5 516.9 467.3 513.6 470.2 509.8 473.4 507 477.2 504.2 480.9 502.3 484.7 502.8 M466.9 518.7 466.7 522.5 467.3 527.2 468.3 530.9 M461.2 539.8 464.1 538 465.5 539.8 463.1 542.7 461.7 541.7 461.2 539.8 M616.2 524.1 618.1 523.4 620.3 524.7 620.6 526.9 618.8 527.5 617.2 526.6 616.2 524.1 M621.2 536.2 623.4 535.6 624.4 537.2 622.5 537.8 621.2 536.2 M624.1 540 626.2 539.4 625.9 541.6 624.4 541.2 M640 555 641.9 554.4 642.5 555.9 640.9 556.9 M636.9 517.2 638.8 516.9 639.7 518.4 638.1 519.4 636.9 517.2 M744.4 146.8 746.9 145.5 747.5 149.9 750.6 151.8 750 154.9 753.8 156.8 753.1 161.1 756.9 163 757.5 166.8 760.6 168 760 171.1 763.1 173 762.5 176.1 766.2 176.8 765.6 180.5 768.8 184.2 771.2 187.4 774.4 189.2 775 193 778.1 194.2 M741.2 142.4 743.8 143.6 743.1 146.1 745.6 147 M839.4 253.9 841.6 256.1 840.5 259.4 843.7 261.6 842.7 264.8 845.9 267 844.8 270.3 848.7 271.4 849.2 274.7 852.5 275.8 852 279.1 854.1 279.6 M808.7 281.8 813.1 279.6 815.3 281.2 819.7 278.5 823 279.6 826.2 276.3 829.5 277.4 832.8 274.1 835.5 276.9 M823 251.7 826.2 253.9 828.4 252.8 830.6 255.5 833.9 255 836.6 252.8 M811.5 243 810.4 246.2 812 249.5 810.7 252.8 811.8 256.6 810.4 259.9 809.6 263.2 M675.6 395.6 676.9 398.8 675 401.2 677.5 403.8 676.2 406.9 678.8 409.4 M670 405 672.5 407.5 671.2 410 674.4 413.1 673.1 415.6 676.2 418.1 M680.6 428.1 683.1 430.6 681.2 433.1 684.4 435 681.9 438.1 680 440.6 677.5 443.1 678.8 445.6 M545 495.1 547.5 497 546.2 500.1 549.4 501.4 548.8 504.5 551.9 505.8 553.1 508.9 M546.2 493.9 550 495.1 550.6 498.2 553.1 500.1 553.8 503.2"/>
<path class="s" d="M576.2 270 578.8 266.9 582.5 268.1 583.1 273.1 581.2 277.5 577.5 276.9 575.6 273.8 576.2 270 M546.9 260 550 261.9 553.8 261.2 558.1 259.8 555 263.8 551.2 264.8 548.8 263.1 546.9 260 M530 267.5 533.1 266.2 535.6 268.8 537.5 273.1 535.6 276.9 531.9 277.5 529.4 275 530 267.5 M531.2 269.4 533.8 271.2 535 275 532.5 275.6 531.2 269.4 M540 279.4 543.8 282.5 547.5 286.2 545 285 541.2 281.9 540 279.4 M497.5 226.2 499.4 231.9 501.9 236.9 M501.9 208.8 503.8 210.6 503.1 214.4 M420.8 111.5 426.5 113.6 432.3 115.7 438 117.7 443.8 119.6 449.6 121.5 455.4 123.4 461.2 125.2 467.1 126.9 472.9 128.6 478.8 130.2 484.7 131.7 490.6 133.2 496.5 134.7 502.5 136 508.4 137.4 514.4 138.6 520.3 139.8 526.3 141 532.3 142.1 538.3 143.1 544.3 144.1 550.4 145 M456.6 123.8 453.2 134.8 449.8 145.7 446.5 156.5 443.2 167.2 439.9 177.9 436.6 188.5 433.3 199 430.1 209.4 426.9 219.8 423.7 230.2 420.5 240.5 417.3 250.7 M505.6 137 501.2 160.5 496.2 185.5 491.2 210.5 488.1 228 M580.6 186.5 570 198 555 214.2 540 228 M423.1 253 442.5 258.2 461.2 263 481.2 267.4 497.5 270.8 512.5 273.6 527.5 276.1 M527.5 276.1 529 270.5 530 277.4 533.1 279.2 536.2 281.1 540 280.5 543.8 283.6 548.8 286.8 551.9 288 555 289.9 558.1 290.2 561.2 289.2 563.8 291.1 566.2 292.4 M461.2 263 454.4 298 445.6 330.5 440.6 348 M488.1 228 481.2 267.4 M540 228 535 231.8 532.5 248.6 530 265.5 529 270.5 M454.4 298 482.5 303.6 511.2 309.2 M512.5 273.6 513.4 281.8 513.1 290.5 511.9 298 511.9 303 511.2 309.2 508.1 313 511.9 316.8 511 323 510 328 508.1 337.4 507.5 348 M445.6 330.5 475 336.8 490 340.5 497.5 343.6 506.2 346.8 M508.1 337.4 530 340.5 550.6 343 M423.1 301.1 450.6 307.4 M550.6 343 551.2 338 548.1 333.6 545 330.5 540.6 325.5 541.9 318 541 315.5 545.6 313 545.6 309.2 546.2 306.1 549.4 304.2 M647.5 254.9 647.5 280.5 M558.1 295.5 560 295 576.9 290.8 605.9 309.1 M560 308.1 563.7 310.9 577.8 317.5 580.6 321.2 582 323.1 582.5 326.9 M590 329.7 588.1 334.4 M587.2 338.1 586.1 342.8 M585.3 346.6 584.6 351.2 M584.2 354.1 584 358.7 M605.5 310.9 606.9 312.8 608.7 311.9 611.1 315.2 612 316.6 623.7 325 625.6 340 625.2 353.1 M647.7 280 647.7 301.6 648.6 306.2 650 310 653.7 314.7 661.2 316.1 664.1 317.5 665.9 319.4 668.7 321.2 671.6 323.1 675.3 324.5 680.5 325 M646.2 365.3 663.1 364.7 680.5 363.9 M640.2 366.2 639.7 370 M734.9 292.2 734.9 296.6 739.3 299.8 740.4 304.2 740.9 308.6 742.6 316.2 746.4 320.6 748.6 323.4 M423.1 348.1 440 352.1 456.9 356.2 453.8 368.1 M443.1 340 440 352.1 M453.7 367.3 461.9 369.1 470.1 370.8 478.4 372.4 486.6 374 494.9 375.5 503.2 376.8 511.5 378.1 M453.8 368.1 446.9 399.4 M423.1 395 446.9 399.4 480 405.9 512.5 412.5 M438.1 400 437.5 404.4 430.6 430 423.1 456.2 M437.5 404.4 463.1 410 459.4 433.1 M459.4 433.1 462.5 433.8 465 436.2 468.1 436.9 470 438.8 473.8 439.4 476.2 441.9 478.8 441.2 482.5 444.4 486.2 444.4 490 446.9 493.8 446 497.5 446.2 500.6 445.6 503.8 447.5 506.2 449.4 508.8 451.2 512.5 451.9 511.9 460 M512.5 418.1 511.9 427.5 510.6 440 508.8 451.2 M512.5 377.5 513.1 382.5 515.6 389.4 513.8 401.2 512.5 412.5 512.5 418.1 M512.5 418.1 532.5 421.9 552.5 425.6 551.2 429.4 555.6 430 557.5 423.1 M509.4 370.6 526.2 373.1 543.8 375.6 M506.2 346.8 507.5 352.5 507.5 358.8 508.8 362.5 509 367.5 509.4 370.6 511.2 373.8 512.5 377.5 M551.9 340 551.2 347.5 553.1 351.2 555 353.8 558.8 358.8 556.2 365 550 368.8 547.5 373.8 543.8 375.6 545 381.2 545.6 387.5 550 392.5 551.2 397.5 555.6 398.8 553.1 403.8 555 406.9 557.5 410 560.6 416.2 561.9 421.2 557.5 423.1 555.6 430 552.5 433.8 550 438.8 546.2 441.2 543.8 447.5 540 451.2 538.8 455 540.6 460 M555 353.8 567.5 355.4 580.6 356.9 M578.8 358.8 579.4 390 577.5 393.8 576.2 400 572.5 407.5 571.9 412.5 571.2 414.4 M560.6 418.1 565 416.2 570 413.8 571.9 410 576.2 408.8 580.6 410 M557.5 423.1 571.2 425.6 571.9 423.1 580.6 423.5 M550.6 440 570 442.5 580.6 442.8 M570 442.5 568.8 451.2 567.5 460 M580 366 602.5 366.9 616.2 366.6 M602.9 366.9 602.5 397.5 M639.8 370 640 390 660.6 390.4 681.2 390.6 M680.5 363.9 683.8 363.8 687.5 369.4 689.4 371.2 692.5 372.8 696.9 374.8 M688.5 370.6 686.2 375 686.9 380 690 383.1 690 385.6 686.2 388.8 683.8 390 681.9 390.6 M689.4 371.9 696.2 376.2 M700 340 700.6 353.8 699.4 362.5 698.8 373.1 M700.6 353.8 710 353.1 719.4 352.5 M699.8 362.5 714.4 361.9 717.5 361.2 M714.4 361.9 715 368.8 M707.5 340 706.9 353.1 M721.2 340 721.2 350 719.4 352.5 M681.9 390.6 682.5 397.5 683.1 404.4 686.9 404.4 M650 390.6 649.4 395.6 653.8 393.1 658.1 391.2 661.9 391.9 663.8 395.6 667.5 397.5 670.6 402.5 668.8 405 M638.8 380 638.5 385 638.1 390 635 393.8 628.1 398.1 625.6 401.9 621.2 403.8 617.5 401.2 611.2 401.9 606.9 399.4 602.5 397.5 600.6 401.2 596.2 402.5 592.5 407.5 588.8 408.1 585 410 580 411.2 M621.2 403.8 621.2 408.8 623.8 413.1 627.5 416.2 631.2 418.8 635 418.1 641.2 415.6 642.5 411.2 647.5 405.6 652.5 401.9 656.2 398.8 660 393.8 661.9 391.9 M627.5 416.2 622.5 418.8 617.5 421.2 611.2 426.2 M580.6 423.5 595 425 611.2 426.2 630 426.6 645 426.6 661.2 426.2 680 426 M629.4 426.9 622.5 432.5 616.2 435 607.5 438.8 604.4 443.1 M580.6 442.8 592.5 443.1 604.4 443.8 613.8 446.9 617.5 443.8 622.5 441.9 633.8 443.1 636.9 446.2 645.6 446 651.9 451.9 658.1 457.8 M613.8 446.9 617.5 451.2 621.2 457.5 623.8 460 M592.5 443.5 594.4 460 M511.9 452 511.9 458.2 511 463.2 510 468.2 511.9 474.5 513.1 480.8 511.2 487 510 492 509.4 495.8 M511.9 458.2 525 459.8 538.8 461.4 M540.6 452 538.8 457 540 461.4 540 468.2 538.1 471.4 536.2 474.5 533.8 477.6 531.9 480.8 531.2 483.9 540.6 484.8 550.6 485.8 550 493.2 551.2 495.1 M568.1 452 565.6 462 563.8 470.8 563.1 482 562.5 493.9 M570.6 487.6 580.6 488.2 M570.6 487.6 571.2 492 M593.8 452 594.8 459.5 595.6 467 597.5 474.5 595 479.5 595.6 488.2 596.9 492 M580 487.6 595.6 488.9 M596.9 492 610 493.5 623.1 495.1 623.8 497 625.6 492 630.6 492.6 M618.8 452 621.2 457 627.5 463.2 631.2 468.2 633.8 474.5 635 477.6 M830 743.5 835 748.5 840 747.2 845 743.5 851.2 741 855.6 738.5 M728 297.8 730.3 299.4 734.2 296.6 M728 297.8 725.6 302.5 723.3 306.4 721.7 311.9 722.1 316.6 719.4 320.5 716.2 323.6 713.9 324.4 713.1 327.5 M715.5 324.4 717 332.2 718.6 340.4 M713.1 327.5 712.3 333 709.2 336.1 708.4 340.4 M689.7 328.7 701.4 328 713.1 327.3 M698.3 328.3 699.1 333 698.3 340.4 M680.3 323.6 685.8 322.4 689.7 323.6 691.2 325.2 M616.9 524.7 619.4 525 619.7 526.6 617.8 526.2 616.9 524.7 M633.1 554.4 635 553.8 635.6 555.9 633.8 556.2 633.1 554.4"/>
</g>
<rect x="422.9" y="110.95" width="434.1" height="650" fill="none" stroke="#000" stroke-width="2"/>
<text x="420.6" y="723.5" text-anchor="end" font-size="17.6">10°N</text>
<text x="419.7" y="600.4" text-anchor="end" font-size="17.6">20°N</text>
<text x="419.7" y="481.4" text-anchor="end" font-size="17.6">30°N</text>
<text x="419.7" y="365.4" text-anchor="end" font-size="17.6">40°N</text>
<text x="419.7" y="245.4" text-anchor="end" font-size="17.6">50°N</text>
<text x="419.7" y="117.5" text-anchor="end" font-size="17.6">60°N</text>
<text x="520.2" y="783.1" text-anchor="middle" font-size="17.6">90°W</text>
<text x="644.9" y="783.1" text-anchor="middle" font-size="17.6">80°W</text>
<text x="770.9" y="783.1" text-anchor="middle" font-size="17.6">70°W</text>
<rect x="423.00" y="824.8" width="5.88" height="26" fill="#000084"/><rect x="427.38" y="824.8" width="5.88" height="26" fill="#00008d"/><rect x="431.77" y="824.8" width="5.88" height="26" fill="#00009b"/><rect x="436.15" y="824.8" width="5.88" height="26" fill="#0000a8"/><rect x="440.54" y="824.8" width="5.88" height="26" fill="#0000b2"/><rect x="444.92" y="824.8" width="5.88" height="26" fill="#0000bf"/><rect x="449.30" y="824.8" width="5.88" height="26" fill="#0000c8"/><rect x="453.69" y="824.8" width="5.88" height="26" fill="#0000d6"/><rect x="458.07" y="824.8" width="5.88" height="26" fill="#0000df"/><rect x="462.45" y="824.8" width="5.88" height="26" fill="#0000ed"/><rect x="466.84" y="824.8" width="5.88" height="26" fill="#0000fa"/><rect x="471.22" y="824.8" width="5.88" height="26" fill="#0000ff"/><rect x="475.61" y="824.8" width="5.88" height="26" fill="#0000ff"/><rect x="479.99" y="824.8" width="5.88" height="26" fill="#0008ff"/><rect x="484.37" y="824.8" width="5.88" height="26" fill="#0014ff"/><rect x="488.76" y="824.8" width="5.88" height="26" fill="#0020ff"/><rect x="493.14" y="824.8" width="5.88" height="26" fill="#0028ff"/><rect x="497.53" y="824.8" width="5.88" height="26" fill="#0034ff"/><rect x="501.91" y="824.8" width="5.88" height="26" fill="#003cff"/><rect x="506.29" y="824.8" width="5.88" height="26" fill="#0048ff"/><rect x="510.68" y="824.8" width="5.88" height="26" fill="#0054ff"/><rect x="515.06" y="824.8" width="5.88" height="26" fill="#005cff"/><rect x="519.44" y="824.8" width="5.88" height="26" fill="#0068ff"/><rect x="523.83" y="824.8" width="5.88" height="26" fill="#0070ff"/><rect x="528.21" y="824.8" width="5.88" height="26" fill="#007cff"/><rect x="532.60" y="824.8" width="5.88" height="26" fill="#0084ff"/><rect x="536.98" y="824.8" width="5.88" height="26" fill="#0090ff"/><rect x="541.36" y="824.8" width="5.88" height="26" fill="#009cff"/><rect x="545.75" y="824.8" width="5.88" height="26" fill="#00a4ff"/><rect x="550.13" y="824.8" width="5.88" height="26" fill="#00b0ff"/><rect x="554.52" y="824.8" width="5.88" height="26" fill="#00b8ff"/><rect x="558.90" y="824.8" width="5.88" height="26" fill="#00c4ff"/><rect x="563.28" y="824.8" width="5.88" height="26" fill="#00d0ff"/><rect x="567.67" y="824.8" width="5.88" height="26" fill="#00d8ff"/><rect x="572.05" y="824.8" width="5.88" height="26" fill="#00e4f8"/><rect x="576.43" y="824.8" width="5.88" height="26" fill="#06ecf1"/><rect x="580.82" y="824.8" width="5.88" height="26" fill="#0ff8e7"/><rect x="585.20" y="824.8" width="5.88" height="26" fill="#16ffe1"/><rect x="589.59" y="824.8" width="5.88" height="26" fill="#1fffd7"/><rect x="593.97" y="824.8" width="5.88" height="26" fill="#29ffce"/><rect x="598.35" y="824.8" width="5.88" height="26" fill="#30ffc7"/><rect x="602.74" y="824.8" width="5.88" height="26" fill="#39ffbe"/><rect x="607.12" y="824.8" width="5.88" height="26" fill="#40ffb7"/><rect x="611.51" y="824.8" width="5.88" height="26" fill="#49ffad"/><rect x="615.89" y="824.8" width="5.88" height="26" fill="#53ffa4"/><rect x="620.27" y="824.8" width="5.88" height="26" fill="#5aff9d"/><rect x="624.66" y="824.8" width="5.88" height="26" fill="#63ff94"/><rect x="629.04" y="824.8" width="5.88" height="26" fill="#6aff8d"/><rect x="633.42" y="824.8" width="5.88" height="26" fill="#73ff83"/><rect x="637.81" y="824.8" width="5.88" height="26" fill="#7dff7a"/><rect x="642.19" y="824.8" width="5.88" height="26" fill="#83ff73"/><rect x="646.58" y="824.8" width="5.88" height="26" fill="#8dff6a"/><rect x="650.96" y="824.8" width="5.88" height="26" fill="#94ff63"/><rect x="655.34" y="824.8" width="5.88" height="26" fill="#9dff5a"/><rect x="659.73" y="824.8" width="5.88" height="26" fill="#a4ff53"/><rect x="664.11" y="824.8" width="5.88" height="26" fill="#adff49"/><rect x="668.49" y="824.8" width="5.88" height="26" fill="#b7ff40"/><rect x="672.88" y="824.8" width="5.88" height="26" fill="#beff39"/><rect x="677.26" y="824.8" width="5.88" height="26" fill="#c7ff30"/><rect x="681.65" y="824.8" width="5.88" height="26" fill="#ceff29"/><rect x="686.03" y="824.8" width="5.88" height="26" fill="#d7ff1f"/><rect x="690.41" y="824.8" width="5.88" height="26" fill="#e1ff16"/><rect x="694.80" y="824.8" width="5.88" height="26" fill="#e7ff0f"/><rect x="699.18" y="824.8" width="5.88" height="26" fill="#f1fc06"/><rect x="703.57" y="824.8" width="5.88" height="26" fill="#f8f500"/><rect x="707.95" y="824.8" width="5.88" height="26" fill="#ffea00"/><rect x="712.33" y="824.8" width="5.88" height="26" fill="#ffe200"/><rect x="716.72" y="824.8" width="5.88" height="26" fill="#ffd700"/><rect x="721.10" y="824.8" width="5.88" height="26" fill="#ffcc00"/><rect x="725.48" y="824.8" width="5.88" height="26" fill="#ffc400"/><rect x="729.87" y="824.8" width="5.88" height="26" fill="#ffb900"/><rect x="734.25" y="824.8" width="5.88" height="26" fill="#ffb200"/><rect x="738.64" y="824.8" width="5.88" height="26" fill="#ffa700"/><rect x="743.02" y="824.8" width="5.88" height="26" fill="#ff9c00"/><rect x="747.40" y="824.8" width="5.88" height="26" fill="#ff9400"/><rect x="751.79" y="824.8" width="5.88" height="26" fill="#ff8900"/><rect x="756.17" y="824.8" width="5.88" height="26" fill="#ff8200"/><rect x="760.56" y="824.8" width="5.88" height="26" fill="#ff7700"/><rect x="764.94" y="824.8" width="5.88" height="26" fill="#ff6f00"/><rect x="769.32" y="824.8" width="5.88" height="26" fill="#ff6400"/><rect x="773.71" y="824.8" width="5.88" height="26" fill="#ff5900"/><rect x="778.09" y="824.8" width="5.88" height="26" fill="#ff5200"/><rect x="782.47" y="824.8" width="5.88" height="26" fill="#ff4700"/><rect x="786.86" y="824.8" width="5.88" height="26" fill="#ff3f00"/><rect x="791.24" y="824.8" width="5.88" height="26" fill="#ff3400"/><rect x="795.63" y="824.8" width="5.88" height="26" fill="#ff2900"/><rect x="800.01" y="824.8" width="5.88" height="26" fill="#ff2200"/><rect x="804.39" y="824.8" width="5.88" height="26" fill="#ff1600"/><rect x="808.78" y="824.8" width="5.88" height="26" fill="#fa0f00"/><rect x="813.16" y="824.8" width="5.88" height="26" fill="#ed0400"/><rect x="817.55" y="824.8" width="5.88" height="26" fill="#df0000"/><rect x="821.93" y="824.8" width="5.88" height="26" fill="#d60000"/><rect x="826.31" y="824.8" width="5.88" height="26" fill="#c80000"/><rect x="830.70" y="824.8" width="5.88" height="26" fill="#bf0000"/><rect x="835.08" y="824.8" width="5.88" height="26" fill="#b20000"/><rect x="839.46" y="824.8" width="5.88" height="26" fill="#a80000"/><rect x="843.85" y="824.8" width="5.88" height="26" fill="#9b0000"/><rect x="848.23" y="824.8" width="5.88" height="26" fill="#8d0000"/><rect x="852.62" y="824.8" width="4.38" height="26" fill="#840000"/>
<rect x="422.9" y="824.8" width="434.1" height="26" fill="none" stroke="#000" stroke-width="2"/>
<text x="423.4" y="876" text-anchor="middle" font-size="21.33">0.0</text>
<text x="467.2" y="876" text-anchor="middle" font-size="21.33">0.1</text>
<text x="511.0" y="876" text-anchor="middle" font-size="21.33">0.2</text>
<text x="554.8" y="876" text-anchor="middle" font-size="21.33">0.3</text>
<text x="598.6" y="876" text-anchor="middle" font-size="21.33">0.4</text>
<text x="642.4" y="876" text-anchor="middle" font-size="21.33">0.5</text>
<text x="686.1" y="876" text-anchor="middle" font-size="21.33">0.6</text>
<text x="729.9" y="876" text-anchor="middle" font-size="21.33">0.7</text>
<text x="773.7" y="876" text-anchor="middle" font-size="21.33">0.8</text>
<text x="817.5" y="876" text-anchor="middle" font-size="21.33">0.9</text>
<path d="M467.2 825.7v9M467.2 850v-8M511.0 825.7v9M511.0 850v-8M554.8 825.7v9M554.8 850v-8M598.6 825.7v9M598.6 850v-8M642.4 825.7v9M642.4 850v-8M686.1 825.7v9M686.1 850v-8M729.9 825.7v9M729.9 850v-8M773.7 825.7v9M773.7 850v-8M817.5 825.7v9M817.5 850v-8" stroke="#000" stroke-width="1.1" fill="none"/>
</svg></body></html>
